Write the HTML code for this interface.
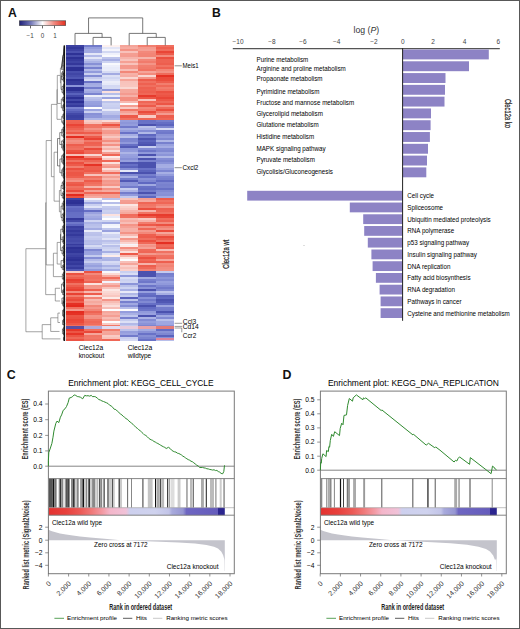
<!DOCTYPE html>
<html><head><meta charset="utf-8"><style>
html,body{margin:0;padding:0;background:#fff;}
svg{display:block;font-family:"Liberation Sans", sans-serif;}
</style></head><body>
<svg width="520" height="629" viewBox="0 0 520 629">
<rect width="520" height="629" fill="#fff"/>
<text x="8" y="17.4" font-size="12.2" fill="#111" font-weight="bold" >A</text>
<defs><linearGradient id="cb" x1="0" x2="1" y1="0" y2="0"><stop offset="0" stop-color="#1e2078"/><stop offset="0.25" stop-color="#7378b8"/><stop offset="0.5" stop-color="#ffffff"/><stop offset="0.75" stop-color="#f08a80"/><stop offset="1" stop-color="#e62e1e"/></linearGradient></defs>
<rect x="19.3" y="20.8" width="46.4" height="4.8" fill="url(#cb)" stroke="#444" stroke-width="0.6"/>
<rect x="30" y="25.6" width="1" height="2.8" fill="#666"/>
<text x="30.1" y="38.1" font-size="6.3" text-anchor="middle" fill="#444" >−1</text>
<rect x="42" y="25.6" width="1" height="2.8" fill="#666"/>
<text x="42.5" y="38.1" font-size="6.3" text-anchor="middle" fill="#444" >0</text>
<rect x="54" y="25.6" width="1" height="2.8" fill="#666"/>
<text x="55" y="38.1" font-size="6.3" text-anchor="middle" fill="#444" >1</text>
<g shape-rendering="crispEdges">
<rect x="66" y="45.4" width="18.1" height="2.05" fill="#3c41a2"/>
<rect x="84.05" y="45.4" width="18.1" height="2.05" fill="#717acb"/>
<rect x="102.1" y="45.4" width="18.1" height="2.05" fill="#fdf1ef"/>
<rect x="120.15" y="45.4" width="18.1" height="2.05" fill="#f5a499"/>
<rect x="138.2" y="45.4" width="18.1" height="2.05" fill="#f27f70"/>
<rect x="156.25" y="45.4" width="18.1" height="2.05" fill="#f07060"/>
<rect x="66" y="47.4" width="18.1" height="2.05" fill="#33389a"/>
<rect x="84.05" y="47.4" width="18.1" height="2.05" fill="#939cdc"/>
<rect x="102.1" y="47.4" width="18.1" height="2.05" fill="#e3e6f7"/>
<rect x="120.15" y="47.4" width="18.1" height="2.05" fill="#f6aca2"/>
<rect x="138.2" y="47.4" width="18.1" height="2.05" fill="#f49b8f"/>
<rect x="156.25" y="47.4" width="18.1" height="2.05" fill="#ee6050"/>
<rect x="66" y="49.41" width="18.1" height="2.05" fill="#3d42a3"/>
<rect x="84.05" y="49.41" width="18.1" height="2.05" fill="#a2aae2"/>
<rect x="102.1" y="49.41" width="18.1" height="2.05" fill="#f4f5fc"/>
<rect x="120.15" y="49.41" width="18.1" height="2.05" fill="#f39386"/>
<rect x="138.2" y="49.41" width="18.1" height="2.05" fill="#f5a095"/>
<rect x="156.25" y="49.41" width="18.1" height="2.05" fill="#f06d5d"/>
<rect x="66" y="51.41" width="18.1" height="2.05" fill="#4b51af"/>
<rect x="84.05" y="51.41" width="18.1" height="2.05" fill="#a2aae2"/>
<rect x="102.1" y="51.41" width="18.1" height="2.05" fill="#d2d8f2"/>
<rect x="120.15" y="51.41" width="18.1" height="2.05" fill="#f8c1ba"/>
<rect x="138.2" y="51.41" width="18.1" height="2.05" fill="#f3897b"/>
<rect x="156.25" y="51.41" width="18.1" height="2.05" fill="#e94637"/>
<rect x="66" y="53.41" width="18.1" height="2.05" fill="#2e3296"/>
<rect x="84.05" y="53.41" width="18.1" height="2.05" fill="#e4e7f7"/>
<rect x="102.1" y="53.41" width="18.1" height="2.05" fill="#eff1fb"/>
<rect x="120.15" y="53.41" width="18.1" height="2.05" fill="#f49e92"/>
<rect x="138.2" y="53.41" width="18.1" height="2.05" fill="#f28577"/>
<rect x="156.25" y="53.41" width="18.1" height="2.05" fill="#ed5c4c"/>
<rect x="66" y="55.41" width="18.1" height="2.05" fill="#454baa"/>
<rect x="84.05" y="55.41" width="18.1" height="2.05" fill="#b3bae8"/>
<rect x="102.1" y="55.41" width="18.1" height="2.05" fill="#f9fafd"/>
<rect x="120.15" y="55.41" width="18.1" height="2.05" fill="#f49c91"/>
<rect x="138.2" y="55.41" width="18.1" height="2.05" fill="#f28475"/>
<rect x="156.25" y="55.41" width="18.1" height="2.05" fill="#f38c7e"/>
<rect x="66" y="57.42" width="18.1" height="2.05" fill="#2d3195"/>
<rect x="84.05" y="57.42" width="18.1" height="2.05" fill="#e4e7f7"/>
<rect x="102.1" y="57.42" width="18.1" height="2.05" fill="#bdc4eb"/>
<rect x="120.15" y="57.42" width="18.1" height="2.05" fill="#f6b3aa"/>
<rect x="138.2" y="57.42" width="18.1" height="2.05" fill="#f6b4ab"/>
<rect x="156.25" y="57.42" width="18.1" height="2.05" fill="#eb5040"/>
<rect x="66" y="59.42" width="18.1" height="2.05" fill="#363b9d"/>
<rect x="84.05" y="59.42" width="18.1" height="2.05" fill="#bbc2eb"/>
<rect x="102.1" y="59.42" width="18.1" height="2.05" fill="#a7afe4"/>
<rect x="120.15" y="59.42" width="18.1" height="2.05" fill="#f8c3bc"/>
<rect x="138.2" y="59.42" width="18.1" height="2.05" fill="#f28678"/>
<rect x="156.25" y="59.42" width="18.1" height="2.05" fill="#ee6353"/>
<rect x="66" y="61.42" width="18.1" height="2.05" fill="#3e44a4"/>
<rect x="84.05" y="61.42" width="18.1" height="2.05" fill="#aab2e5"/>
<rect x="102.1" y="61.42" width="18.1" height="2.05" fill="#cdd3f1"/>
<rect x="120.15" y="61.42" width="18.1" height="2.05" fill="#f5a094"/>
<rect x="138.2" y="61.42" width="18.1" height="2.05" fill="#f17b6c"/>
<rect x="156.25" y="61.42" width="18.1" height="2.05" fill="#ee6353"/>
<rect x="66" y="63.42" width="18.1" height="2.05" fill="#33379a"/>
<rect x="84.05" y="63.42" width="18.1" height="2.05" fill="#8790d6"/>
<rect x="102.1" y="63.42" width="18.1" height="2.05" fill="#f8f9fd"/>
<rect x="120.15" y="63.42" width="18.1" height="2.05" fill="#f8c2bb"/>
<rect x="138.2" y="63.42" width="18.1" height="2.05" fill="#f49487"/>
<rect x="156.25" y="63.42" width="18.1" height="2.05" fill="#ed5e4e"/>
<rect x="66" y="65.43" width="18.1" height="2.05" fill="#4e55b1"/>
<rect x="84.05" y="65.43" width="18.1" height="2.05" fill="#abb3e5"/>
<rect x="102.1" y="65.43" width="18.1" height="2.05" fill="#edeffa"/>
<rect x="120.15" y="65.43" width="18.1" height="2.05" fill="#f4978b"/>
<rect x="138.2" y="65.43" width="18.1" height="2.05" fill="#f27e6f"/>
<rect x="156.25" y="65.43" width="18.1" height="2.05" fill="#f17363"/>
<rect x="66" y="67.43" width="18.1" height="2.05" fill="#2c3094"/>
<rect x="84.05" y="67.43" width="18.1" height="2.05" fill="#7881cf"/>
<rect x="102.1" y="67.43" width="18.1" height="2.05" fill="#e8ebf9"/>
<rect x="120.15" y="67.43" width="18.1" height="2.05" fill="#f4988c"/>
<rect x="138.2" y="67.43" width="18.1" height="2.05" fill="#f17b6b"/>
<rect x="156.25" y="67.43" width="18.1" height="2.05" fill="#ee6252"/>
<rect x="66" y="69.43" width="18.1" height="2.05" fill="#2c3094"/>
<rect x="84.05" y="69.43" width="18.1" height="2.05" fill="#b4bbe8"/>
<rect x="102.1" y="69.43" width="18.1" height="2.05" fill="#e9ecf9"/>
<rect x="120.15" y="69.43" width="18.1" height="2.05" fill="#f7bdb6"/>
<rect x="138.2" y="69.43" width="18.1" height="2.05" fill="#f17363"/>
<rect x="156.25" y="69.43" width="18.1" height="2.05" fill="#f28778"/>
<rect x="66" y="71.44" width="18.1" height="2.05" fill="#484fad"/>
<rect x="84.05" y="71.44" width="18.1" height="2.05" fill="#929bdc"/>
<rect x="102.1" y="71.44" width="18.1" height="2.05" fill="#d6dbf3"/>
<rect x="120.15" y="71.44" width="18.1" height="2.05" fill="#f28779"/>
<rect x="138.2" y="71.44" width="18.1" height="2.05" fill="#f5a499"/>
<rect x="156.25" y="71.44" width="18.1" height="2.05" fill="#f39285"/>
<rect x="66" y="73.44" width="18.1" height="2.05" fill="#4046a6"/>
<rect x="84.05" y="73.44" width="18.1" height="2.05" fill="#cad0f0"/>
<rect x="102.1" y="73.44" width="18.1" height="2.05" fill="#a3abe2"/>
<rect x="120.15" y="73.44" width="18.1" height="2.05" fill="#f6b1a8"/>
<rect x="138.2" y="73.44" width="18.1" height="2.05" fill="#f38b7d"/>
<rect x="156.25" y="73.44" width="18.1" height="2.05" fill="#ef6b5b"/>
<rect x="66" y="75.44" width="18.1" height="2.05" fill="#474eac"/>
<rect x="84.05" y="75.44" width="18.1" height="2.05" fill="#838cd4"/>
<rect x="102.1" y="75.44" width="18.1" height="2.05" fill="#dce0f5"/>
<rect x="120.15" y="75.44" width="18.1" height="2.05" fill="#f6aba2"/>
<rect x="138.2" y="75.44" width="18.1" height="2.05" fill="#fad6d1"/>
<rect x="156.25" y="75.44" width="18.1" height="2.05" fill="#e53124"/>
<rect x="66" y="77.44" width="18.1" height="2.05" fill="#5058b4"/>
<rect x="84.05" y="77.44" width="18.1" height="2.05" fill="#c3c9ed"/>
<rect x="102.1" y="77.44" width="18.1" height="2.05" fill="#d0d6f2"/>
<rect x="120.15" y="77.44" width="18.1" height="2.05" fill="#fad6d2"/>
<rect x="138.2" y="77.44" width="18.1" height="2.05" fill="#f49487"/>
<rect x="156.25" y="77.44" width="18.1" height="2.05" fill="#ea4b3c"/>
<rect x="66" y="79.45" width="18.1" height="2.05" fill="#2c3094"/>
<rect x="84.05" y="79.45" width="18.1" height="2.05" fill="#d5daf3"/>
<rect x="102.1" y="79.45" width="18.1" height="2.05" fill="#dbdff5"/>
<rect x="120.15" y="79.45" width="18.1" height="2.05" fill="#f5a59a"/>
<rect x="138.2" y="79.45" width="18.1" height="2.05" fill="#ed5b4b"/>
<rect x="156.25" y="79.45" width="18.1" height="2.05" fill="#eb4d3d"/>
<rect x="66" y="81.45" width="18.1" height="2.05" fill="#353a9c"/>
<rect x="84.05" y="81.45" width="18.1" height="2.05" fill="#6a73c7"/>
<rect x="102.1" y="81.45" width="18.1" height="2.05" fill="#ebedf9"/>
<rect x="120.15" y="81.45" width="18.1" height="2.05" fill="#f8c2bb"/>
<rect x="138.2" y="81.45" width="18.1" height="2.05" fill="#f07060"/>
<rect x="156.25" y="81.45" width="18.1" height="2.05" fill="#ed5d4d"/>
<rect x="66" y="83.45" width="18.1" height="2.05" fill="#363b9d"/>
<rect x="84.05" y="83.45" width="18.1" height="2.05" fill="#a3abe2"/>
<rect x="102.1" y="83.45" width="18.1" height="2.05" fill="#e6e9f8"/>
<rect x="120.15" y="83.45" width="18.1" height="2.05" fill="#f8c4bd"/>
<rect x="138.2" y="83.45" width="18.1" height="2.05" fill="#ee6151"/>
<rect x="156.25" y="83.45" width="18.1" height="2.05" fill="#f27e6e"/>
<rect x="66" y="85.45" width="18.1" height="2.05" fill="#8a93d8"/>
<rect x="84.05" y="85.45" width="18.1" height="2.05" fill="#a7afe4"/>
<rect x="102.1" y="85.45" width="18.1" height="2.05" fill="#d3d8f3"/>
<rect x="120.15" y="85.45" width="18.1" height="2.05" fill="#f8c6bf"/>
<rect x="138.2" y="85.45" width="18.1" height="2.05" fill="#f06f5f"/>
<rect x="156.25" y="85.45" width="18.1" height="2.05" fill="#ef6858"/>
<rect x="66" y="87.46" width="18.1" height="2.05" fill="#2c3094"/>
<rect x="84.05" y="87.46" width="18.1" height="2.05" fill="#757ecd"/>
<rect x="102.1" y="87.46" width="18.1" height="2.05" fill="#d5daf3"/>
<rect x="120.15" y="87.46" width="18.1" height="2.05" fill="#fad8d3"/>
<rect x="138.2" y="87.46" width="18.1" height="2.05" fill="#ee6050"/>
<rect x="156.25" y="87.46" width="18.1" height="2.05" fill="#f27d6d"/>
<rect x="66" y="89.46" width="18.1" height="2.05" fill="#2c3094"/>
<rect x="84.05" y="89.46" width="18.1" height="2.05" fill="#abb2e5"/>
<rect x="102.1" y="89.46" width="18.1" height="2.05" fill="#8e97da"/>
<rect x="120.15" y="89.46" width="18.1" height="2.05" fill="#f5a89d"/>
<rect x="138.2" y="89.46" width="18.1" height="2.05" fill="#ee6454"/>
<rect x="156.25" y="89.46" width="18.1" height="2.05" fill="#f17464"/>
<rect x="66" y="91.46" width="18.1" height="2.05" fill="#4349a8"/>
<rect x="84.05" y="91.46" width="18.1" height="2.05" fill="#a1a9e2"/>
<rect x="102.1" y="91.46" width="18.1" height="2.05" fill="#fbe0dd"/>
<rect x="120.15" y="91.46" width="18.1" height="2.05" fill="#f5a89d"/>
<rect x="138.2" y="91.46" width="18.1" height="2.05" fill="#ee6050"/>
<rect x="156.25" y="91.46" width="18.1" height="2.05" fill="#eb5141"/>
<rect x="66" y="93.46" width="18.1" height="2.05" fill="#5962bc"/>
<rect x="84.05" y="93.46" width="18.1" height="2.05" fill="#7b84d0"/>
<rect x="102.1" y="93.46" width="18.1" height="2.05" fill="#b6bee9"/>
<rect x="120.15" y="93.46" width="18.1" height="2.05" fill="#f49a8f"/>
<rect x="138.2" y="93.46" width="18.1" height="2.05" fill="#ef6858"/>
<rect x="156.25" y="93.46" width="18.1" height="2.05" fill="#ed5a4a"/>
<rect x="66" y="95.47" width="18.1" height="2.05" fill="#4349a8"/>
<rect x="84.05" y="95.47" width="18.1" height="2.05" fill="#eceef9"/>
<rect x="102.1" y="95.47" width="18.1" height="2.05" fill="#e9ebf9"/>
<rect x="120.15" y="95.47" width="18.1" height="2.05" fill="#f6b0a7"/>
<rect x="138.2" y="95.47" width="18.1" height="2.05" fill="#e73a2c"/>
<rect x="156.25" y="95.47" width="18.1" height="2.05" fill="#ec5444"/>
<rect x="66" y="97.47" width="18.1" height="2.05" fill="#2c3094"/>
<rect x="84.05" y="97.47" width="18.1" height="2.05" fill="#bbc2eb"/>
<rect x="102.1" y="97.47" width="18.1" height="2.05" fill="#9aa3df"/>
<rect x="120.15" y="97.47" width="18.1" height="2.05" fill="#f38e81"/>
<rect x="138.2" y="97.47" width="18.1" height="2.05" fill="#ec5747"/>
<rect x="156.25" y="97.47" width="18.1" height="2.05" fill="#e94637"/>
<rect x="66" y="99.47" width="18.1" height="2.05" fill="#4349a8"/>
<rect x="84.05" y="99.47" width="18.1" height="2.05" fill="#b3bae8"/>
<rect x="102.1" y="99.47" width="18.1" height="2.05" fill="#fef3f1"/>
<rect x="120.15" y="99.47" width="18.1" height="2.05" fill="#f38e81"/>
<rect x="138.2" y="99.47" width="18.1" height="2.05" fill="#f8c3bc"/>
<rect x="156.25" y="99.47" width="18.1" height="2.05" fill="#ed5848"/>
<rect x="66" y="101.48" width="18.1" height="2.05" fill="#2c3094"/>
<rect x="84.05" y="101.48" width="18.1" height="2.05" fill="#99a2df"/>
<rect x="102.1" y="101.48" width="18.1" height="2.05" fill="#bcc3eb"/>
<rect x="120.15" y="101.48" width="18.1" height="2.05" fill="#f7b8b0"/>
<rect x="138.2" y="101.48" width="18.1" height="2.05" fill="#ef6656"/>
<rect x="156.25" y="101.48" width="18.1" height="2.05" fill="#ef6959"/>
<rect x="66" y="103.48" width="18.1" height="2.05" fill="#4046a5"/>
<rect x="84.05" y="103.48" width="18.1" height="2.05" fill="#97a0de"/>
<rect x="102.1" y="103.48" width="18.1" height="2.05" fill="#cdd3f1"/>
<rect x="120.15" y="103.48" width="18.1" height="2.05" fill="#fef9f8"/>
<rect x="138.2" y="103.48" width="18.1" height="2.05" fill="#f17464"/>
<rect x="156.25" y="103.48" width="18.1" height="2.05" fill="#ec5545"/>
<rect x="66" y="105.48" width="18.1" height="2.05" fill="#363b9d"/>
<rect x="84.05" y="105.48" width="18.1" height="2.05" fill="#9099db"/>
<rect x="102.1" y="105.48" width="18.1" height="2.05" fill="#cad0f0"/>
<rect x="120.15" y="105.48" width="18.1" height="2.05" fill="#f49c90"/>
<rect x="138.2" y="105.48" width="18.1" height="2.05" fill="#ed5a4a"/>
<rect x="156.25" y="105.48" width="18.1" height="2.05" fill="#f39083"/>
<rect x="66" y="107.48" width="18.1" height="2.05" fill="#7a83d0"/>
<rect x="84.05" y="107.48" width="18.1" height="2.05" fill="#fefeff"/>
<rect x="102.1" y="107.48" width="18.1" height="2.05" fill="#c6ccee"/>
<rect x="120.15" y="107.48" width="18.1" height="2.05" fill="#f9cac4"/>
<rect x="138.2" y="107.48" width="18.1" height="2.05" fill="#f3887a"/>
<rect x="156.25" y="107.48" width="18.1" height="2.05" fill="#ef6a5a"/>
<rect x="66" y="109.49" width="18.1" height="2.05" fill="#636cc3"/>
<rect x="84.05" y="109.49" width="18.1" height="2.05" fill="#9ca5e0"/>
<rect x="102.1" y="109.49" width="18.1" height="2.05" fill="#e8eaf8"/>
<rect x="120.15" y="109.49" width="18.1" height="2.05" fill="#f17767"/>
<rect x="138.2" y="109.49" width="18.1" height="2.05" fill="#f27d6e"/>
<rect x="156.25" y="109.49" width="18.1" height="2.05" fill="#eb4e3e"/>
<rect x="66" y="111.49" width="18.1" height="2.05" fill="#545cb7"/>
<rect x="84.05" y="111.49" width="18.1" height="2.05" fill="#cad0f0"/>
<rect x="102.1" y="111.49" width="18.1" height="2.05" fill="#bec5ec"/>
<rect x="120.15" y="111.49" width="18.1" height="2.05" fill="#f5a195"/>
<rect x="138.2" y="111.49" width="18.1" height="2.05" fill="#ea4b3c"/>
<rect x="156.25" y="111.49" width="18.1" height="2.05" fill="#f17b6b"/>
<rect x="66" y="113.49" width="18.1" height="2.05" fill="#4349a8"/>
<rect x="84.05" y="113.49" width="18.1" height="2.05" fill="#8891d7"/>
<rect x="102.1" y="113.49" width="18.1" height="2.05" fill="#bac0ea"/>
<rect x="120.15" y="113.49" width="18.1" height="2.05" fill="#f6b3a9"/>
<rect x="138.2" y="113.49" width="18.1" height="2.05" fill="#ee6454"/>
<rect x="156.25" y="113.49" width="18.1" height="2.05" fill="#f49b90"/>
<rect x="66" y="115.49" width="18.1" height="2.05" fill="#3a40a1"/>
<rect x="84.05" y="115.49" width="18.1" height="2.05" fill="#8e97da"/>
<rect x="102.1" y="115.49" width="18.1" height="2.05" fill="#a2aae2"/>
<rect x="120.15" y="115.49" width="18.1" height="2.05" fill="#ed5949"/>
<rect x="138.2" y="115.49" width="18.1" height="2.05" fill="#f9cbc4"/>
<rect x="156.25" y="115.49" width="18.1" height="2.05" fill="#ed5d4d"/>
<rect x="66" y="117.5" width="18.1" height="2.05" fill="#3e44a4"/>
<rect x="84.05" y="117.5" width="18.1" height="2.05" fill="#aeb6e6"/>
<rect x="102.1" y="117.5" width="18.1" height="2.05" fill="#aeb5e6"/>
<rect x="120.15" y="117.5" width="18.1" height="2.05" fill="#f07161"/>
<rect x="138.2" y="117.5" width="18.1" height="2.05" fill="#ee6555"/>
<rect x="156.25" y="117.5" width="18.1" height="2.05" fill="#ef6656"/>
<rect x="66" y="119.5" width="18.1" height="2.06" fill="#ee6454"/>
<rect x="84.05" y="119.5" width="18.1" height="2.06" fill="#f9ccc6"/>
<rect x="102.1" y="119.5" width="18.1" height="2.06" fill="#fbdad6"/>
<rect x="120.15" y="119.5" width="18.1" height="2.06" fill="#959edd"/>
<rect x="138.2" y="119.5" width="18.1" height="2.06" fill="#6871c6"/>
<rect x="156.25" y="119.5" width="18.1" height="2.06" fill="#747dcc"/>
<rect x="66" y="121.51" width="18.1" height="2.06" fill="#ee6151"/>
<rect x="84.05" y="121.51" width="18.1" height="2.06" fill="#f7c0b8"/>
<rect x="102.1" y="121.51" width="18.1" height="2.06" fill="#f49b8f"/>
<rect x="120.15" y="121.51" width="18.1" height="2.06" fill="#8d96d9"/>
<rect x="138.2" y="121.51" width="18.1" height="2.06" fill="#6972c7"/>
<rect x="156.25" y="121.51" width="18.1" height="2.06" fill="#666fc5"/>
<rect x="66" y="123.53" width="18.1" height="2.06" fill="#e94436"/>
<rect x="84.05" y="123.53" width="18.1" height="2.06" fill="#f07262"/>
<rect x="102.1" y="123.53" width="18.1" height="2.06" fill="#ec5343"/>
<rect x="120.15" y="123.53" width="18.1" height="2.06" fill="#949ddd"/>
<rect x="138.2" y="123.53" width="18.1" height="2.06" fill="#4b52af"/>
<rect x="156.25" y="123.53" width="18.1" height="2.06" fill="#5c65be"/>
<rect x="66" y="125.54" width="18.1" height="2.06" fill="#ec5545"/>
<rect x="84.05" y="125.54" width="18.1" height="2.06" fill="#f17464"/>
<rect x="102.1" y="125.54" width="18.1" height="2.06" fill="#f28071"/>
<rect x="120.15" y="125.54" width="18.1" height="2.06" fill="#717acb"/>
<rect x="138.2" y="125.54" width="18.1" height="2.06" fill="#bac1ea"/>
<rect x="156.25" y="125.54" width="18.1" height="2.06" fill="#7e87d1"/>
<rect x="66" y="127.55" width="18.1" height="2.06" fill="#ee6353"/>
<rect x="84.05" y="127.55" width="18.1" height="2.06" fill="#f39386"/>
<rect x="102.1" y="127.55" width="18.1" height="2.06" fill="#f7bbb3"/>
<rect x="120.15" y="127.55" width="18.1" height="2.06" fill="#a5ade3"/>
<rect x="138.2" y="127.55" width="18.1" height="2.06" fill="#a8afe4"/>
<rect x="156.25" y="127.55" width="18.1" height="2.06" fill="#d5d9f3"/>
<rect x="66" y="129.56" width="18.1" height="2.06" fill="#f07262"/>
<rect x="84.05" y="129.56" width="18.1" height="2.06" fill="#f28071"/>
<rect x="102.1" y="129.56" width="18.1" height="2.06" fill="#f49b8f"/>
<rect x="120.15" y="129.56" width="18.1" height="2.06" fill="#949ddd"/>
<rect x="138.2" y="129.56" width="18.1" height="2.06" fill="#848dd5"/>
<rect x="156.25" y="129.56" width="18.1" height="2.06" fill="#747dcd"/>
<rect x="66" y="131.58" width="18.1" height="2.06" fill="#ed5848"/>
<rect x="84.05" y="131.58" width="18.1" height="2.06" fill="#ed5d4d"/>
<rect x="102.1" y="131.58" width="18.1" height="2.06" fill="#f4988c"/>
<rect x="120.15" y="131.58" width="18.1" height="2.06" fill="#6972c7"/>
<rect x="138.2" y="131.58" width="18.1" height="2.06" fill="#b0b8e7"/>
<rect x="156.25" y="131.58" width="18.1" height="2.06" fill="#6f78ca"/>
<rect x="66" y="133.59" width="18.1" height="2.06" fill="#f39386"/>
<rect x="84.05" y="133.59" width="18.1" height="2.06" fill="#f28577"/>
<rect x="102.1" y="133.59" width="18.1" height="2.06" fill="#f6b1a7"/>
<rect x="120.15" y="133.59" width="18.1" height="2.06" fill="#a5ade3"/>
<rect x="138.2" y="133.59" width="18.1" height="2.06" fill="#5e67c0"/>
<rect x="156.25" y="133.59" width="18.1" height="2.06" fill="#8992d7"/>
<rect x="66" y="135.6" width="18.1" height="2.06" fill="#e42c20"/>
<rect x="84.05" y="135.6" width="18.1" height="2.06" fill="#ed5b4b"/>
<rect x="102.1" y="135.6" width="18.1" height="2.06" fill="#f8c7c0"/>
<rect x="120.15" y="135.6" width="18.1" height="2.06" fill="#b9c0ea"/>
<rect x="138.2" y="135.6" width="18.1" height="2.06" fill="#7079ca"/>
<rect x="156.25" y="135.6" width="18.1" height="2.06" fill="#9099db"/>
<rect x="66" y="137.62" width="18.1" height="2.06" fill="#f27e6f"/>
<rect x="84.05" y="137.62" width="18.1" height="2.06" fill="#e94234"/>
<rect x="102.1" y="137.62" width="18.1" height="2.06" fill="#f6aca2"/>
<rect x="120.15" y="137.62" width="18.1" height="2.06" fill="#7b84d0"/>
<rect x="138.2" y="137.62" width="18.1" height="2.06" fill="#4d54b1"/>
<rect x="156.25" y="137.62" width="18.1" height="2.06" fill="#7e87d1"/>
<rect x="66" y="139.63" width="18.1" height="2.06" fill="#f39184"/>
<rect x="84.05" y="139.63" width="18.1" height="2.06" fill="#f1796a"/>
<rect x="102.1" y="139.63" width="18.1" height="2.06" fill="#f38f81"/>
<rect x="120.15" y="139.63" width="18.1" height="2.06" fill="#7e87d1"/>
<rect x="138.2" y="139.63" width="18.1" height="2.06" fill="#5c65be"/>
<rect x="156.25" y="139.63" width="18.1" height="2.06" fill="#aeb6e6"/>
<rect x="66" y="141.64" width="18.1" height="2.06" fill="#f3897b"/>
<rect x="84.05" y="141.64" width="18.1" height="2.06" fill="#ee6050"/>
<rect x="102.1" y="141.64" width="18.1" height="2.06" fill="#f7b9b1"/>
<rect x="120.15" y="141.64" width="18.1" height="2.06" fill="#9099db"/>
<rect x="138.2" y="141.64" width="18.1" height="2.06" fill="#5259b5"/>
<rect x="156.25" y="141.64" width="18.1" height="2.06" fill="#7780ce"/>
<rect x="66" y="143.65" width="18.1" height="2.06" fill="#ed5e4e"/>
<rect x="84.05" y="143.65" width="18.1" height="2.06" fill="#ee6454"/>
<rect x="102.1" y="143.65" width="18.1" height="2.06" fill="#f39185"/>
<rect x="120.15" y="143.65" width="18.1" height="2.06" fill="#6770c5"/>
<rect x="138.2" y="143.65" width="18.1" height="2.06" fill="#4b52af"/>
<rect x="156.25" y="143.65" width="18.1" height="2.06" fill="#97a0de"/>
<rect x="66" y="145.67" width="18.1" height="2.06" fill="#ef6b5b"/>
<rect x="84.05" y="145.67" width="18.1" height="2.06" fill="#f28678"/>
<rect x="102.1" y="145.67" width="18.1" height="2.06" fill="#f9ccc6"/>
<rect x="120.15" y="145.67" width="18.1" height="2.06" fill="#535bb6"/>
<rect x="138.2" y="145.67" width="18.1" height="2.06" fill="#c8ceef"/>
<rect x="156.25" y="145.67" width="18.1" height="2.06" fill="#a4ace3"/>
<rect x="66" y="147.68" width="18.1" height="2.06" fill="#f07161"/>
<rect x="84.05" y="147.68" width="18.1" height="2.06" fill="#ea4a3b"/>
<rect x="102.1" y="147.68" width="18.1" height="2.06" fill="#f6b4ab"/>
<rect x="120.15" y="147.68" width="18.1" height="2.06" fill="#8d96da"/>
<rect x="138.2" y="147.68" width="18.1" height="2.06" fill="#828bd4"/>
<rect x="156.25" y="147.68" width="18.1" height="2.06" fill="#848dd5"/>
<rect x="66" y="149.69" width="18.1" height="2.06" fill="#ec5242"/>
<rect x="84.05" y="149.69" width="18.1" height="2.06" fill="#ef6959"/>
<rect x="102.1" y="149.69" width="18.1" height="2.06" fill="#fbdbd7"/>
<rect x="120.15" y="149.69" width="18.1" height="2.06" fill="#919adc"/>
<rect x="138.2" y="149.69" width="18.1" height="2.06" fill="#6d76c9"/>
<rect x="156.25" y="149.69" width="18.1" height="2.06" fill="#7f88d2"/>
<rect x="66" y="151.71" width="18.1" height="2.06" fill="#ea483a"/>
<rect x="84.05" y="151.71" width="18.1" height="2.06" fill="#ef6656"/>
<rect x="102.1" y="151.71" width="18.1" height="2.06" fill="#f49d92"/>
<rect x="120.15" y="151.71" width="18.1" height="2.06" fill="#adb5e6"/>
<rect x="138.2" y="151.71" width="18.1" height="2.06" fill="#9099db"/>
<rect x="156.25" y="151.71" width="18.1" height="2.06" fill="#97a0de"/>
<rect x="66" y="153.72" width="18.1" height="2.06" fill="#f7bdb5"/>
<rect x="84.05" y="153.72" width="18.1" height="2.06" fill="#fad6d1"/>
<rect x="102.1" y="153.72" width="18.1" height="2.06" fill="#ef6555"/>
<rect x="120.15" y="153.72" width="18.1" height="2.06" fill="#97a0de"/>
<rect x="138.2" y="153.72" width="18.1" height="2.06" fill="#4b52af"/>
<rect x="156.25" y="153.72" width="18.1" height="2.06" fill="#8b94d8"/>
<rect x="66" y="155.73" width="18.1" height="2.06" fill="#e42a1e"/>
<rect x="84.05" y="155.73" width="18.1" height="2.06" fill="#f28577"/>
<rect x="102.1" y="155.73" width="18.1" height="2.06" fill="#fdebe9"/>
<rect x="120.15" y="155.73" width="18.1" height="2.06" fill="#949ddd"/>
<rect x="138.2" y="155.73" width="18.1" height="2.06" fill="#a5ade3"/>
<rect x="156.25" y="155.73" width="18.1" height="2.06" fill="#b1b9e7"/>
<rect x="66" y="157.74" width="18.1" height="2.06" fill="#eb4e3f"/>
<rect x="84.05" y="157.74" width="18.1" height="2.06" fill="#ea4839"/>
<rect x="102.1" y="157.74" width="18.1" height="2.06" fill="#f9cdc7"/>
<rect x="120.15" y="157.74" width="18.1" height="2.06" fill="#8790d6"/>
<rect x="138.2" y="157.74" width="18.1" height="2.06" fill="#4b52af"/>
<rect x="156.25" y="157.74" width="18.1" height="2.06" fill="#848dd5"/>
<rect x="66" y="159.76" width="18.1" height="2.06" fill="#f07262"/>
<rect x="84.05" y="159.76" width="18.1" height="2.06" fill="#ee6555"/>
<rect x="102.1" y="159.76" width="18.1" height="2.06" fill="#ef6858"/>
<rect x="120.15" y="159.76" width="18.1" height="2.06" fill="#97a0de"/>
<rect x="138.2" y="159.76" width="18.1" height="2.06" fill="#7881ce"/>
<rect x="156.25" y="159.76" width="18.1" height="2.06" fill="#7b84d0"/>
<rect x="66" y="161.77" width="18.1" height="2.06" fill="#eb4f40"/>
<rect x="84.05" y="161.77" width="18.1" height="2.06" fill="#f17c6c"/>
<rect x="102.1" y="161.77" width="18.1" height="2.06" fill="#fbe0dc"/>
<rect x="120.15" y="161.77" width="18.1" height="2.06" fill="#5057b3"/>
<rect x="138.2" y="161.77" width="18.1" height="2.06" fill="#4b52af"/>
<rect x="156.25" y="161.77" width="18.1" height="2.06" fill="#8891d7"/>
<rect x="66" y="163.78" width="18.1" height="2.06" fill="#ed5b4b"/>
<rect x="84.05" y="163.78" width="18.1" height="2.06" fill="#e63326"/>
<rect x="102.1" y="163.78" width="18.1" height="2.06" fill="#f5a499"/>
<rect x="120.15" y="163.78" width="18.1" height="2.06" fill="#6770c6"/>
<rect x="138.2" y="163.78" width="18.1" height="2.06" fill="#4b52af"/>
<rect x="156.25" y="163.78" width="18.1" height="2.06" fill="#a4ace3"/>
<rect x="66" y="165.79" width="18.1" height="2.06" fill="#f27e6f"/>
<rect x="84.05" y="165.79" width="18.1" height="2.06" fill="#ee5f4f"/>
<rect x="102.1" y="165.79" width="18.1" height="2.06" fill="#f4978b"/>
<rect x="120.15" y="165.79" width="18.1" height="2.06" fill="#5a62bc"/>
<rect x="138.2" y="165.79" width="18.1" height="2.06" fill="#4b52af"/>
<rect x="156.25" y="165.79" width="18.1" height="2.06" fill="#a6aee3"/>
<rect x="66" y="167.81" width="18.1" height="2.06" fill="#eb4f40"/>
<rect x="84.05" y="167.81" width="18.1" height="2.06" fill="#ee5f4f"/>
<rect x="102.1" y="167.81" width="18.1" height="2.06" fill="#fbdfdb"/>
<rect x="120.15" y="167.81" width="18.1" height="2.06" fill="#838cd4"/>
<rect x="138.2" y="167.81" width="18.1" height="2.06" fill="#6972c7"/>
<rect x="156.25" y="167.81" width="18.1" height="2.06" fill="#949ddd"/>
<rect x="66" y="169.82" width="18.1" height="2.06" fill="#ee6151"/>
<rect x="84.05" y="169.82" width="18.1" height="2.06" fill="#ed5949"/>
<rect x="102.1" y="169.82" width="18.1" height="2.06" fill="#f7bbb3"/>
<rect x="120.15" y="169.82" width="18.1" height="2.06" fill="#e5e8f8"/>
<rect x="138.2" y="169.82" width="18.1" height="2.06" fill="#5b64bd"/>
<rect x="156.25" y="169.82" width="18.1" height="2.06" fill="#7c85d1"/>
<rect x="66" y="171.83" width="18.1" height="2.06" fill="#ec5646"/>
<rect x="84.05" y="171.83" width="18.1" height="2.06" fill="#f07161"/>
<rect x="102.1" y="171.83" width="18.1" height="2.06" fill="#f06c5c"/>
<rect x="120.15" y="171.83" width="18.1" height="2.06" fill="#4b52af"/>
<rect x="138.2" y="171.83" width="18.1" height="2.06" fill="#4b52af"/>
<rect x="156.25" y="171.83" width="18.1" height="2.06" fill="#a7afe4"/>
<rect x="66" y="173.85" width="18.1" height="2.06" fill="#ec5747"/>
<rect x="84.05" y="173.85" width="18.1" height="2.06" fill="#f8c2bb"/>
<rect x="102.1" y="173.85" width="18.1" height="2.06" fill="#f7bdb6"/>
<rect x="120.15" y="173.85" width="18.1" height="2.06" fill="#818ad3"/>
<rect x="138.2" y="173.85" width="18.1" height="2.06" fill="#767fcd"/>
<rect x="156.25" y="173.85" width="18.1" height="2.06" fill="#939cdc"/>
<rect x="66" y="175.86" width="18.1" height="2.06" fill="#ee5f4f"/>
<rect x="84.05" y="175.86" width="18.1" height="2.06" fill="#f06e5e"/>
<rect x="102.1" y="175.86" width="18.1" height="2.06" fill="#f49f93"/>
<rect x="120.15" y="175.86" width="18.1" height="2.06" fill="#a6aee3"/>
<rect x="138.2" y="175.86" width="18.1" height="2.06" fill="#656ec5"/>
<rect x="156.25" y="175.86" width="18.1" height="2.06" fill="#7a83d0"/>
<rect x="66" y="177.87" width="18.1" height="2.06" fill="#f28375"/>
<rect x="84.05" y="177.87" width="18.1" height="2.06" fill="#f27e6f"/>
<rect x="102.1" y="177.87" width="18.1" height="2.06" fill="#f7b8af"/>
<rect x="120.15" y="177.87" width="18.1" height="2.06" fill="#737ccc"/>
<rect x="138.2" y="177.87" width="18.1" height="2.06" fill="#8891d7"/>
<rect x="156.25" y="177.87" width="18.1" height="2.06" fill="#767fcd"/>
<rect x="66" y="179.88" width="18.1" height="2.06" fill="#f39184"/>
<rect x="84.05" y="179.88" width="18.1" height="2.06" fill="#ed5b4b"/>
<rect x="102.1" y="179.88" width="18.1" height="2.06" fill="#f4988c"/>
<rect x="120.15" y="179.88" width="18.1" height="2.06" fill="#5259b5"/>
<rect x="138.2" y="179.88" width="18.1" height="2.06" fill="#7d86d1"/>
<rect x="156.25" y="179.88" width="18.1" height="2.06" fill="#626bc3"/>
<rect x="66" y="181.9" width="18.1" height="2.06" fill="#ed5e4e"/>
<rect x="84.05" y="181.9" width="18.1" height="2.06" fill="#f06e5e"/>
<rect x="102.1" y="181.9" width="18.1" height="2.06" fill="#f49e93"/>
<rect x="120.15" y="181.9" width="18.1" height="2.06" fill="#8992d7"/>
<rect x="138.2" y="181.9" width="18.1" height="2.06" fill="#5f68c1"/>
<rect x="156.25" y="181.9" width="18.1" height="2.06" fill="#7d86d1"/>
<rect x="66" y="183.91" width="18.1" height="2.06" fill="#ec5646"/>
<rect x="84.05" y="183.91" width="18.1" height="2.06" fill="#f17666"/>
<rect x="102.1" y="183.91" width="18.1" height="2.06" fill="#f49487"/>
<rect x="120.15" y="183.91" width="18.1" height="2.06" fill="#8b94d9"/>
<rect x="138.2" y="183.91" width="18.1" height="2.06" fill="#a0a9e1"/>
<rect x="156.25" y="183.91" width="18.1" height="2.06" fill="#7881ce"/>
<rect x="66" y="185.92" width="18.1" height="2.06" fill="#f07262"/>
<rect x="84.05" y="185.92" width="18.1" height="2.06" fill="#f6b5ac"/>
<rect x="102.1" y="185.92" width="18.1" height="2.06" fill="#f9ccc6"/>
<rect x="120.15" y="185.92" width="18.1" height="2.06" fill="#737ccc"/>
<rect x="138.2" y="185.92" width="18.1" height="2.06" fill="#6871c6"/>
<rect x="156.25" y="185.92" width="18.1" height="2.06" fill="#7a83cf"/>
<rect x="66" y="187.94" width="18.1" height="2.06" fill="#ef6858"/>
<rect x="84.05" y="187.94" width="18.1" height="2.06" fill="#ef6757"/>
<rect x="102.1" y="187.94" width="18.1" height="2.06" fill="#f39184"/>
<rect x="120.15" y="187.94" width="18.1" height="2.06" fill="#c6ccef"/>
<rect x="138.2" y="187.94" width="18.1" height="2.06" fill="#636cc3"/>
<rect x="156.25" y="187.94" width="18.1" height="2.06" fill="#6770c5"/>
<rect x="66" y="189.95" width="18.1" height="2.06" fill="#ea4a3b"/>
<rect x="84.05" y="189.95" width="18.1" height="2.06" fill="#f5a196"/>
<rect x="102.1" y="189.95" width="18.1" height="2.06" fill="#f6aba1"/>
<rect x="120.15" y="189.95" width="18.1" height="2.06" fill="#acb3e5"/>
<rect x="138.2" y="189.95" width="18.1" height="2.06" fill="#717acb"/>
<rect x="156.25" y="189.95" width="18.1" height="2.06" fill="#8089d2"/>
<rect x="66" y="191.96" width="18.1" height="2.06" fill="#f28173"/>
<rect x="84.05" y="191.96" width="18.1" height="2.06" fill="#ef6757"/>
<rect x="102.1" y="191.96" width="18.1" height="2.06" fill="#ef6656"/>
<rect x="120.15" y="191.96" width="18.1" height="2.06" fill="#747dcc"/>
<rect x="138.2" y="191.96" width="18.1" height="2.06" fill="#4b52af"/>
<rect x="156.25" y="191.96" width="18.1" height="2.06" fill="#8a93d8"/>
<rect x="66" y="193.97" width="18.1" height="2.06" fill="#e42a1e"/>
<rect x="84.05" y="193.97" width="18.1" height="2.06" fill="#f4998c"/>
<rect x="102.1" y="193.97" width="18.1" height="2.06" fill="#f49e92"/>
<rect x="120.15" y="193.97" width="18.1" height="2.06" fill="#919adc"/>
<rect x="138.2" y="193.97" width="18.1" height="2.06" fill="#7c85d0"/>
<rect x="156.25" y="193.97" width="18.1" height="2.06" fill="#8790d6"/>
<rect x="66" y="195.99" width="18.1" height="2.06" fill="#eb5141"/>
<rect x="84.05" y="195.99" width="18.1" height="2.06" fill="#f5aaa0"/>
<rect x="102.1" y="195.99" width="18.1" height="2.06" fill="#f49f93"/>
<rect x="120.15" y="195.99" width="18.1" height="2.06" fill="#c4caee"/>
<rect x="138.2" y="195.99" width="18.1" height="2.06" fill="#5e67c0"/>
<rect x="156.25" y="195.99" width="18.1" height="2.06" fill="#a1a9e2"/>
<rect x="66" y="198" width="18.1" height="2.03" fill="#3e44a4"/>
<rect x="84.05" y="198" width="18.1" height="2.03" fill="#f1f3fb"/>
<rect x="102.1" y="198" width="18.1" height="2.03" fill="#bbc1eb"/>
<rect x="120.15" y="198" width="18.1" height="2.03" fill="#f8c4bc"/>
<rect x="138.2" y="198" width="18.1" height="2.03" fill="#f49e92"/>
<rect x="156.25" y="198" width="18.1" height="2.03" fill="#ed5c4c"/>
<rect x="66" y="199.98" width="18.1" height="2.03" fill="#2e3296"/>
<rect x="84.05" y="199.98" width="18.1" height="2.03" fill="#ccd2f1"/>
<rect x="102.1" y="199.98" width="18.1" height="2.03" fill="#fefeff"/>
<rect x="120.15" y="199.98" width="18.1" height="2.03" fill="#f49e93"/>
<rect x="138.2" y="199.98" width="18.1" height="2.03" fill="#f5aaa0"/>
<rect x="156.25" y="199.98" width="18.1" height="2.03" fill="#f07262"/>
<rect x="66" y="201.96" width="18.1" height="2.03" fill="#2c3094"/>
<rect x="84.05" y="201.96" width="18.1" height="2.03" fill="#9da6e0"/>
<rect x="102.1" y="201.96" width="18.1" height="2.03" fill="#b7bee9"/>
<rect x="120.15" y="201.96" width="18.1" height="2.03" fill="#f49b8f"/>
<rect x="138.2" y="201.96" width="18.1" height="2.03" fill="#ef6656"/>
<rect x="156.25" y="201.96" width="18.1" height="2.03" fill="#ef6656"/>
<rect x="66" y="203.94" width="18.1" height="2.03" fill="#3b40a1"/>
<rect x="84.05" y="203.94" width="18.1" height="2.03" fill="#cad0f0"/>
<rect x="102.1" y="203.94" width="18.1" height="2.03" fill="#f5f7fc"/>
<rect x="120.15" y="203.94" width="18.1" height="2.03" fill="#fce6e3"/>
<rect x="138.2" y="203.94" width="18.1" height="2.03" fill="#f17565"/>
<rect x="156.25" y="203.94" width="18.1" height="2.03" fill="#f28273"/>
<rect x="66" y="205.91" width="18.1" height="2.03" fill="#6770c6"/>
<rect x="84.05" y="205.91" width="18.1" height="2.03" fill="#e1e5f7"/>
<rect x="102.1" y="205.91" width="18.1" height="2.03" fill="#c5cbee"/>
<rect x="120.15" y="205.91" width="18.1" height="2.03" fill="#fad3cd"/>
<rect x="138.2" y="205.91" width="18.1" height="2.03" fill="#f17b6c"/>
<rect x="156.25" y="205.91" width="18.1" height="2.03" fill="#f49689"/>
<rect x="66" y="207.89" width="18.1" height="2.03" fill="#5f67c0"/>
<rect x="84.05" y="207.89" width="18.1" height="2.03" fill="#adb4e6"/>
<rect x="102.1" y="207.89" width="18.1" height="2.03" fill="#bfc5ec"/>
<rect x="120.15" y="207.89" width="18.1" height="2.03" fill="#f9c9c3"/>
<rect x="138.2" y="207.89" width="18.1" height="2.03" fill="#eb4e3e"/>
<rect x="156.25" y="207.89" width="18.1" height="2.03" fill="#ee5f4f"/>
<rect x="66" y="209.87" width="18.1" height="2.03" fill="#5c64be"/>
<rect x="84.05" y="209.87" width="18.1" height="2.03" fill="#656ec5"/>
<rect x="102.1" y="209.87" width="18.1" height="2.03" fill="#cbd1f0"/>
<rect x="120.15" y="209.87" width="18.1" height="2.03" fill="#f6b3aa"/>
<rect x="138.2" y="209.87" width="18.1" height="2.03" fill="#f6b3aa"/>
<rect x="156.25" y="209.87" width="18.1" height="2.03" fill="#ee6454"/>
<rect x="66" y="211.85" width="18.1" height="2.03" fill="#656ec4"/>
<rect x="84.05" y="211.85" width="18.1" height="2.03" fill="#9aa2df"/>
<rect x="102.1" y="211.85" width="18.1" height="2.03" fill="#c7cdef"/>
<rect x="120.15" y="211.85" width="18.1" height="2.03" fill="#f5a99e"/>
<rect x="138.2" y="211.85" width="18.1" height="2.03" fill="#f17565"/>
<rect x="156.25" y="211.85" width="18.1" height="2.03" fill="#f07060"/>
<rect x="66" y="213.83" width="18.1" height="2.03" fill="#666fc5"/>
<rect x="84.05" y="213.83" width="18.1" height="2.03" fill="#acb3e5"/>
<rect x="102.1" y="213.83" width="18.1" height="2.03" fill="#fce2df"/>
<rect x="120.15" y="213.83" width="18.1" height="2.03" fill="#f06c5c"/>
<rect x="138.2" y="213.83" width="18.1" height="2.03" fill="#e73b2e"/>
<rect x="156.25" y="213.83" width="18.1" height="2.03" fill="#e73b2d"/>
<rect x="66" y="215.81" width="18.1" height="2.03" fill="#666fc5"/>
<rect x="84.05" y="215.81" width="18.1" height="2.03" fill="#a2aae2"/>
<rect x="102.1" y="215.81" width="18.1" height="2.03" fill="#e7eaf8"/>
<rect x="120.15" y="215.81" width="18.1" height="2.03" fill="#f07161"/>
<rect x="138.2" y="215.81" width="18.1" height="2.03" fill="#ed5a4a"/>
<rect x="156.25" y="215.81" width="18.1" height="2.03" fill="#e94436"/>
<rect x="66" y="217.78" width="18.1" height="2.03" fill="#35399c"/>
<rect x="84.05" y="217.78" width="18.1" height="2.03" fill="#99a2df"/>
<rect x="102.1" y="217.78" width="18.1" height="2.03" fill="#ffffff"/>
<rect x="120.15" y="217.78" width="18.1" height="2.03" fill="#f7bcb4"/>
<rect x="138.2" y="217.78" width="18.1" height="2.03" fill="#f8c8c2"/>
<rect x="156.25" y="217.78" width="18.1" height="2.03" fill="#f06e5e"/>
<rect x="66" y="219.76" width="18.1" height="2.03" fill="#444aa9"/>
<rect x="84.05" y="219.76" width="18.1" height="2.03" fill="#d0d5f2"/>
<rect x="102.1" y="219.76" width="18.1" height="2.03" fill="#ced4f1"/>
<rect x="120.15" y="219.76" width="18.1" height="2.03" fill="#f6ada3"/>
<rect x="138.2" y="219.76" width="18.1" height="2.03" fill="#f6b3aa"/>
<rect x="156.25" y="219.76" width="18.1" height="2.03" fill="#ee6353"/>
<rect x="66" y="221.74" width="18.1" height="2.03" fill="#7079ca"/>
<rect x="84.05" y="221.74" width="18.1" height="2.03" fill="#acb4e6"/>
<rect x="102.1" y="221.74" width="18.1" height="2.03" fill="#a1aae2"/>
<rect x="120.15" y="221.74" width="18.1" height="2.03" fill="#f7beb7"/>
<rect x="138.2" y="221.74" width="18.1" height="2.03" fill="#f27c6d"/>
<rect x="156.25" y="221.74" width="18.1" height="2.03" fill="#f38b7d"/>
<rect x="66" y="223.72" width="18.1" height="2.03" fill="#6068c1"/>
<rect x="84.05" y="223.72" width="18.1" height="2.03" fill="#b8bfea"/>
<rect x="102.1" y="223.72" width="18.1" height="2.03" fill="#f1f3fb"/>
<rect x="120.15" y="223.72" width="18.1" height="2.03" fill="#f49487"/>
<rect x="138.2" y="223.72" width="18.1" height="2.03" fill="#ed5a4a"/>
<rect x="156.25" y="223.72" width="18.1" height="2.03" fill="#eb5141"/>
<rect x="66" y="225.7" width="18.1" height="2.03" fill="#3a3fa0"/>
<rect x="84.05" y="225.7" width="18.1" height="2.03" fill="#bcc3eb"/>
<rect x="102.1" y="225.7" width="18.1" height="2.03" fill="#f6f7fd"/>
<rect x="120.15" y="225.7" width="18.1" height="2.03" fill="#f5a196"/>
<rect x="138.2" y="225.7" width="18.1" height="2.03" fill="#f49488"/>
<rect x="156.25" y="225.7" width="18.1" height="2.03" fill="#f28172"/>
<rect x="66" y="227.68" width="18.1" height="2.03" fill="#4046a6"/>
<rect x="84.05" y="227.68" width="18.1" height="2.03" fill="#a3abe2"/>
<rect x="102.1" y="227.68" width="18.1" height="2.03" fill="#c1c8ed"/>
<rect x="120.15" y="227.68" width="18.1" height="2.03" fill="#f6b1a8"/>
<rect x="138.2" y="227.68" width="18.1" height="2.03" fill="#ef6757"/>
<rect x="156.25" y="227.68" width="18.1" height="2.03" fill="#f39285"/>
<rect x="66" y="229.65" width="18.1" height="2.03" fill="#34399b"/>
<rect x="84.05" y="229.65" width="18.1" height="2.03" fill="#e9ecf9"/>
<rect x="102.1" y="229.65" width="18.1" height="2.03" fill="#98a1de"/>
<rect x="120.15" y="229.65" width="18.1" height="2.03" fill="#f6b0a7"/>
<rect x="138.2" y="229.65" width="18.1" height="2.03" fill="#f49b8f"/>
<rect x="156.25" y="229.65" width="18.1" height="2.03" fill="#ea4b3c"/>
<rect x="66" y="231.63" width="18.1" height="2.03" fill="#3d43a3"/>
<rect x="84.05" y="231.63" width="18.1" height="2.03" fill="#bdc3eb"/>
<rect x="102.1" y="231.63" width="18.1" height="2.03" fill="#e8ebf9"/>
<rect x="120.15" y="231.63" width="18.1" height="2.03" fill="#f39386"/>
<rect x="138.2" y="231.63" width="18.1" height="2.03" fill="#f3887a"/>
<rect x="156.25" y="231.63" width="18.1" height="2.03" fill="#f5a59a"/>
<rect x="66" y="233.61" width="18.1" height="2.03" fill="#34399b"/>
<rect x="84.05" y="233.61" width="18.1" height="2.03" fill="#bac1ea"/>
<rect x="102.1" y="233.61" width="18.1" height="2.03" fill="#cfd4f1"/>
<rect x="120.15" y="233.61" width="18.1" height="2.03" fill="#f7b9b1"/>
<rect x="138.2" y="233.61" width="18.1" height="2.03" fill="#ee5f4f"/>
<rect x="156.25" y="233.61" width="18.1" height="2.03" fill="#f28172"/>
<rect x="66" y="235.59" width="18.1" height="2.03" fill="#4147a6"/>
<rect x="84.05" y="235.59" width="18.1" height="2.03" fill="#c9cff0"/>
<rect x="102.1" y="235.59" width="18.1" height="2.03" fill="#cbd1f0"/>
<rect x="120.15" y="235.59" width="18.1" height="2.03" fill="#fbdfdb"/>
<rect x="138.2" y="235.59" width="18.1" height="2.03" fill="#ed5c4c"/>
<rect x="156.25" y="235.59" width="18.1" height="2.03" fill="#ea4a3b"/>
<rect x="66" y="237.57" width="18.1" height="2.03" fill="#464dab"/>
<rect x="84.05" y="237.57" width="18.1" height="2.03" fill="#c4caee"/>
<rect x="102.1" y="237.57" width="18.1" height="2.03" fill="#e0e3f6"/>
<rect x="120.15" y="237.57" width="18.1" height="2.03" fill="#f4978a"/>
<rect x="138.2" y="237.57" width="18.1" height="2.03" fill="#f06e5e"/>
<rect x="156.25" y="237.57" width="18.1" height="2.03" fill="#ed5c4c"/>
<rect x="66" y="239.55" width="18.1" height="2.03" fill="#444aa9"/>
<rect x="84.05" y="239.55" width="18.1" height="2.03" fill="#b7bee9"/>
<rect x="102.1" y="239.55" width="18.1" height="2.03" fill="#bac0ea"/>
<rect x="120.15" y="239.55" width="18.1" height="2.03" fill="#f7b7ae"/>
<rect x="138.2" y="239.55" width="18.1" height="2.03" fill="#eb5141"/>
<rect x="156.25" y="239.55" width="18.1" height="2.03" fill="#f17363"/>
<rect x="66" y="241.52" width="18.1" height="2.03" fill="#4a51ae"/>
<rect x="84.05" y="241.52" width="18.1" height="2.03" fill="#bac1ea"/>
<rect x="102.1" y="241.52" width="18.1" height="2.03" fill="#c7cdef"/>
<rect x="120.15" y="241.52" width="18.1" height="2.03" fill="#fad4cf"/>
<rect x="138.2" y="241.52" width="18.1" height="2.03" fill="#ef6959"/>
<rect x="156.25" y="241.52" width="18.1" height="2.03" fill="#e52f22"/>
<rect x="66" y="243.5" width="18.1" height="2.03" fill="#363b9d"/>
<rect x="84.05" y="243.5" width="18.1" height="2.03" fill="#b1b9e7"/>
<rect x="102.1" y="243.5" width="18.1" height="2.03" fill="#dfe3f6"/>
<rect x="120.15" y="243.5" width="18.1" height="2.03" fill="#f4f5fc"/>
<rect x="138.2" y="243.5" width="18.1" height="2.03" fill="#f49e93"/>
<rect x="156.25" y="243.5" width="18.1" height="2.03" fill="#ee6151"/>
<rect x="66" y="245.48" width="18.1" height="2.03" fill="#4248a7"/>
<rect x="84.05" y="245.48" width="18.1" height="2.03" fill="#d6dbf3"/>
<rect x="102.1" y="245.48" width="18.1" height="2.03" fill="#b9c0ea"/>
<rect x="120.15" y="245.48" width="18.1" height="2.03" fill="#fdebe9"/>
<rect x="138.2" y="245.48" width="18.1" height="2.03" fill="#f39185"/>
<rect x="156.25" y="245.48" width="18.1" height="2.03" fill="#ef6858"/>
<rect x="66" y="247.46" width="18.1" height="2.03" fill="#2c3094"/>
<rect x="84.05" y="247.46" width="18.1" height="2.03" fill="#c1c8ed"/>
<rect x="102.1" y="247.46" width="18.1" height="2.03" fill="#cad0f0"/>
<rect x="120.15" y="247.46" width="18.1" height="2.03" fill="#f38d80"/>
<rect x="138.2" y="247.46" width="18.1" height="2.03" fill="#f5a196"/>
<rect x="156.25" y="247.46" width="18.1" height="2.03" fill="#ed5c4c"/>
<rect x="66" y="249.44" width="18.1" height="2.03" fill="#323799"/>
<rect x="84.05" y="249.44" width="18.1" height="2.03" fill="#8089d3"/>
<rect x="102.1" y="249.44" width="18.1" height="2.03" fill="#d2d7f2"/>
<rect x="120.15" y="249.44" width="18.1" height="2.03" fill="#f6b5ac"/>
<rect x="138.2" y="249.44" width="18.1" height="2.03" fill="#ef6a5a"/>
<rect x="156.25" y="249.44" width="18.1" height="2.03" fill="#f7bdb5"/>
<rect x="66" y="251.42" width="18.1" height="2.03" fill="#303598"/>
<rect x="84.05" y="251.42" width="18.1" height="2.03" fill="#9aa2df"/>
<rect x="102.1" y="251.42" width="18.1" height="2.03" fill="#a8b0e4"/>
<rect x="120.15" y="251.42" width="18.1" height="2.03" fill="#fbdfdb"/>
<rect x="138.2" y="251.42" width="18.1" height="2.03" fill="#ef6656"/>
<rect x="156.25" y="251.42" width="18.1" height="2.03" fill="#f07262"/>
<rect x="66" y="253.39" width="18.1" height="2.03" fill="#4046a5"/>
<rect x="84.05" y="253.39" width="18.1" height="2.03" fill="#9ba4e0"/>
<rect x="102.1" y="253.39" width="18.1" height="2.03" fill="#dfe2f6"/>
<rect x="120.15" y="253.39" width="18.1" height="2.03" fill="#ed5a4a"/>
<rect x="138.2" y="253.39" width="18.1" height="2.03" fill="#f4998d"/>
<rect x="156.25" y="253.39" width="18.1" height="2.03" fill="#f38f82"/>
<rect x="66" y="255.37" width="18.1" height="2.03" fill="#3b40a1"/>
<rect x="84.05" y="255.37" width="18.1" height="2.03" fill="#c4cbee"/>
<rect x="102.1" y="255.37" width="18.1" height="2.03" fill="#fdedeb"/>
<rect x="120.15" y="255.37" width="18.1" height="2.03" fill="#f7b7ae"/>
<rect x="138.2" y="255.37" width="18.1" height="2.03" fill="#f06d5d"/>
<rect x="156.25" y="255.37" width="18.1" height="2.03" fill="#f07161"/>
<rect x="66" y="257.35" width="18.1" height="2.03" fill="#323699"/>
<rect x="84.05" y="257.35" width="18.1" height="2.03" fill="#868fd6"/>
<rect x="102.1" y="257.35" width="18.1" height="2.03" fill="#afb7e7"/>
<rect x="120.15" y="257.35" width="18.1" height="2.03" fill="#fce5e1"/>
<rect x="138.2" y="257.35" width="18.1" height="2.03" fill="#eb4f40"/>
<rect x="156.25" y="257.35" width="18.1" height="2.03" fill="#f06e5e"/>
<rect x="66" y="259.33" width="18.1" height="2.03" fill="#2c3094"/>
<rect x="84.05" y="259.33" width="18.1" height="2.03" fill="#b3bae8"/>
<rect x="102.1" y="259.33" width="18.1" height="2.03" fill="#abb3e5"/>
<rect x="120.15" y="259.33" width="18.1" height="2.03" fill="#fcfdfe"/>
<rect x="138.2" y="259.33" width="18.1" height="2.03" fill="#ef6757"/>
<rect x="156.25" y="259.33" width="18.1" height="2.03" fill="#f5a59b"/>
<rect x="66" y="261.31" width="18.1" height="2.03" fill="#393e9f"/>
<rect x="84.05" y="261.31" width="18.1" height="2.03" fill="#c7cdef"/>
<rect x="102.1" y="261.31" width="18.1" height="2.03" fill="#d7dbf4"/>
<rect x="120.15" y="261.31" width="18.1" height="2.03" fill="#f7bfb8"/>
<rect x="138.2" y="261.31" width="18.1" height="2.03" fill="#ed5c4c"/>
<rect x="156.25" y="261.31" width="18.1" height="2.03" fill="#ee5f4f"/>
<rect x="66" y="263.29" width="18.1" height="2.03" fill="#33389a"/>
<rect x="84.05" y="263.29" width="18.1" height="2.03" fill="#a5ade3"/>
<rect x="102.1" y="263.29" width="18.1" height="2.03" fill="#cdd2f1"/>
<rect x="120.15" y="263.29" width="18.1" height="2.03" fill="#f5a69b"/>
<rect x="138.2" y="263.29" width="18.1" height="2.03" fill="#f6b2a9"/>
<rect x="156.25" y="263.29" width="18.1" height="2.03" fill="#f38a7c"/>
<rect x="66" y="265.26" width="18.1" height="2.03" fill="#4147a7"/>
<rect x="84.05" y="265.26" width="18.1" height="2.03" fill="#97a0de"/>
<rect x="102.1" y="265.26" width="18.1" height="2.03" fill="#a9b1e4"/>
<rect x="120.15" y="265.26" width="18.1" height="2.03" fill="#fad1cc"/>
<rect x="138.2" y="265.26" width="18.1" height="2.03" fill="#ed5e4e"/>
<rect x="156.25" y="265.26" width="18.1" height="2.03" fill="#f28374"/>
<rect x="66" y="267.24" width="18.1" height="2.03" fill="#363b9d"/>
<rect x="84.05" y="267.24" width="18.1" height="2.03" fill="#aab2e5"/>
<rect x="102.1" y="267.24" width="18.1" height="2.03" fill="#c3caee"/>
<rect x="120.15" y="267.24" width="18.1" height="2.03" fill="#f8c2bb"/>
<rect x="138.2" y="267.24" width="18.1" height="2.03" fill="#ef6959"/>
<rect x="156.25" y="267.24" width="18.1" height="2.03" fill="#f38c7f"/>
<rect x="66" y="269.22" width="18.1" height="2.03" fill="#5158b4"/>
<rect x="84.05" y="269.22" width="18.1" height="2.03" fill="#919adb"/>
<rect x="102.1" y="269.22" width="18.1" height="2.03" fill="#a5ade3"/>
<rect x="120.15" y="269.22" width="18.1" height="2.03" fill="#fad1cc"/>
<rect x="138.2" y="269.22" width="18.1" height="2.03" fill="#f28173"/>
<rect x="156.25" y="269.22" width="18.1" height="2.03" fill="#f39083"/>
<rect x="66" y="271.2" width="18.1" height="2.04" fill="#f9cdc7"/>
<rect x="84.05" y="271.2" width="18.1" height="2.04" fill="#ec5242"/>
<rect x="102.1" y="271.2" width="18.1" height="2.04" fill="#f7f8fd"/>
<rect x="120.15" y="271.2" width="18.1" height="2.04" fill="#c9cff0"/>
<rect x="138.2" y="271.2" width="18.1" height="2.04" fill="#4b52af"/>
<rect x="156.25" y="271.2" width="18.1" height="2.04" fill="#c4caee"/>
<rect x="66" y="273.19" width="18.1" height="2.04" fill="#eb5141"/>
<rect x="84.05" y="273.19" width="18.1" height="2.04" fill="#f38a7c"/>
<rect x="102.1" y="273.19" width="18.1" height="2.04" fill="#fbdbd6"/>
<rect x="120.15" y="273.19" width="18.1" height="2.04" fill="#d9ddf4"/>
<rect x="138.2" y="273.19" width="18.1" height="2.04" fill="#4b52af"/>
<rect x="156.25" y="273.19" width="18.1" height="2.04" fill="#757ecd"/>
<rect x="66" y="275.19" width="18.1" height="2.04" fill="#f06f5f"/>
<rect x="84.05" y="275.19" width="18.1" height="2.04" fill="#f07161"/>
<rect x="102.1" y="275.19" width="18.1" height="2.04" fill="#f6aba1"/>
<rect x="120.15" y="275.19" width="18.1" height="2.04" fill="#9099db"/>
<rect x="138.2" y="275.19" width="18.1" height="2.04" fill="#4b52af"/>
<rect x="156.25" y="275.19" width="18.1" height="2.04" fill="#7a83cf"/>
<rect x="66" y="277.18" width="18.1" height="2.04" fill="#ee5f4f"/>
<rect x="84.05" y="277.18" width="18.1" height="2.04" fill="#f06e5e"/>
<rect x="102.1" y="277.18" width="18.1" height="2.04" fill="#f06c5c"/>
<rect x="120.15" y="277.18" width="18.1" height="2.04" fill="#d9ddf4"/>
<rect x="138.2" y="277.18" width="18.1" height="2.04" fill="#a3ace2"/>
<rect x="156.25" y="277.18" width="18.1" height="2.04" fill="#8d96d9"/>
<rect x="66" y="279.18" width="18.1" height="2.04" fill="#e83e30"/>
<rect x="84.05" y="279.18" width="18.1" height="2.04" fill="#f17565"/>
<rect x="102.1" y="279.18" width="18.1" height="2.04" fill="#f49b8f"/>
<rect x="120.15" y="279.18" width="18.1" height="2.04" fill="#cbd1f0"/>
<rect x="138.2" y="279.18" width="18.1" height="2.04" fill="#7780ce"/>
<rect x="156.25" y="279.18" width="18.1" height="2.04" fill="#818ad3"/>
<rect x="66" y="281.17" width="18.1" height="2.04" fill="#e94738"/>
<rect x="84.05" y="281.17" width="18.1" height="2.04" fill="#ee6252"/>
<rect x="102.1" y="281.17" width="18.1" height="2.04" fill="#f3f4fc"/>
<rect x="120.15" y="281.17" width="18.1" height="2.04" fill="#d0d5f2"/>
<rect x="138.2" y="281.17" width="18.1" height="2.04" fill="#6e77c9"/>
<rect x="156.25" y="281.17" width="18.1" height="2.04" fill="#969fde"/>
<rect x="66" y="283.17" width="18.1" height="2.04" fill="#f07262"/>
<rect x="84.05" y="283.17" width="18.1" height="2.04" fill="#fbe1dd"/>
<rect x="102.1" y="283.17" width="18.1" height="2.04" fill="#f7b6ae"/>
<rect x="120.15" y="283.17" width="18.1" height="2.04" fill="#8c95d9"/>
<rect x="138.2" y="283.17" width="18.1" height="2.04" fill="#98a1de"/>
<rect x="156.25" y="283.17" width="18.1" height="2.04" fill="#9099db"/>
<rect x="66" y="285.16" width="18.1" height="2.04" fill="#ed5d4d"/>
<rect x="84.05" y="285.16" width="18.1" height="2.04" fill="#f49689"/>
<rect x="102.1" y="285.16" width="18.1" height="2.04" fill="#f4988c"/>
<rect x="120.15" y="285.16" width="18.1" height="2.04" fill="#b9c0ea"/>
<rect x="138.2" y="285.16" width="18.1" height="2.04" fill="#6c75c8"/>
<rect x="156.25" y="285.16" width="18.1" height="2.04" fill="#7f88d2"/>
<rect x="66" y="287.15" width="18.1" height="2.04" fill="#ea4c3d"/>
<rect x="84.05" y="287.15" width="18.1" height="2.04" fill="#f4988c"/>
<rect x="102.1" y="287.15" width="18.1" height="2.04" fill="#f8c2bb"/>
<rect x="120.15" y="287.15" width="18.1" height="2.04" fill="#ced3f1"/>
<rect x="138.2" y="287.15" width="18.1" height="2.04" fill="#8992d7"/>
<rect x="156.25" y="287.15" width="18.1" height="2.04" fill="#7079ca"/>
<rect x="66" y="289.15" width="18.1" height="2.04" fill="#e83f31"/>
<rect x="84.05" y="289.15" width="18.1" height="2.04" fill="#ee6151"/>
<rect x="102.1" y="289.15" width="18.1" height="2.04" fill="#fce7e4"/>
<rect x="120.15" y="289.15" width="18.1" height="2.04" fill="#aab2e5"/>
<rect x="138.2" y="289.15" width="18.1" height="2.04" fill="#4b52af"/>
<rect x="156.25" y="289.15" width="18.1" height="2.04" fill="#8089d2"/>
<rect x="66" y="291.14" width="18.1" height="2.04" fill="#f38b7d"/>
<rect x="84.05" y="291.14" width="18.1" height="2.04" fill="#f7bab2"/>
<rect x="102.1" y="291.14" width="18.1" height="2.04" fill="#fad9d4"/>
<rect x="120.15" y="291.14" width="18.1" height="2.04" fill="#e8eaf8"/>
<rect x="138.2" y="291.14" width="18.1" height="2.04" fill="#969fde"/>
<rect x="156.25" y="291.14" width="18.1" height="2.04" fill="#bec4ec"/>
<rect x="66" y="293.14" width="18.1" height="2.04" fill="#e84133"/>
<rect x="84.05" y="293.14" width="18.1" height="2.04" fill="#ed5c4c"/>
<rect x="102.1" y="293.14" width="18.1" height="2.04" fill="#fad2cd"/>
<rect x="120.15" y="293.14" width="18.1" height="2.04" fill="#b0b8e7"/>
<rect x="138.2" y="293.14" width="18.1" height="2.04" fill="#6871c6"/>
<rect x="156.25" y="293.14" width="18.1" height="2.04" fill="#a5ade3"/>
<rect x="66" y="295.13" width="18.1" height="2.04" fill="#f27c6d"/>
<rect x="84.05" y="295.13" width="18.1" height="2.04" fill="#fad7d2"/>
<rect x="102.1" y="295.13" width="18.1" height="2.04" fill="#f8c7c0"/>
<rect x="120.15" y="295.13" width="18.1" height="2.04" fill="#c5ccee"/>
<rect x="138.2" y="295.13" width="18.1" height="2.04" fill="#6069c1"/>
<rect x="156.25" y="295.13" width="18.1" height="2.04" fill="#5a62bc"/>
<rect x="66" y="297.13" width="18.1" height="2.04" fill="#ec5646"/>
<rect x="84.05" y="297.13" width="18.1" height="2.04" fill="#f28273"/>
<rect x="102.1" y="297.13" width="18.1" height="2.04" fill="#fceae7"/>
<rect x="120.15" y="297.13" width="18.1" height="2.04" fill="#5a62bc"/>
<rect x="138.2" y="297.13" width="18.1" height="2.04" fill="#8992d8"/>
<rect x="156.25" y="297.13" width="18.1" height="2.04" fill="#616ac2"/>
<rect x="66" y="299.12" width="18.1" height="2.04" fill="#ea4a3b"/>
<rect x="84.05" y="299.12" width="18.1" height="2.04" fill="#f7b8af"/>
<rect x="102.1" y="299.12" width="18.1" height="2.04" fill="#f49488"/>
<rect x="120.15" y="299.12" width="18.1" height="2.04" fill="#bcc3eb"/>
<rect x="138.2" y="299.12" width="18.1" height="2.04" fill="#7079ca"/>
<rect x="156.25" y="299.12" width="18.1" height="2.04" fill="#4b52af"/>
<rect x="66" y="301.11" width="18.1" height="2.04" fill="#ee6151"/>
<rect x="84.05" y="301.11" width="18.1" height="2.04" fill="#f5a99e"/>
<rect x="102.1" y="301.11" width="18.1" height="2.04" fill="#f7bcb3"/>
<rect x="120.15" y="301.11" width="18.1" height="2.04" fill="#767fce"/>
<rect x="138.2" y="301.11" width="18.1" height="2.04" fill="#818ad3"/>
<rect x="156.25" y="301.11" width="18.1" height="2.04" fill="#5158b4"/>
<rect x="66" y="303.11" width="18.1" height="2.04" fill="#e53125"/>
<rect x="84.05" y="303.11" width="18.1" height="2.04" fill="#f6b2a9"/>
<rect x="102.1" y="303.11" width="18.1" height="2.04" fill="#f9ccc6"/>
<rect x="120.15" y="303.11" width="18.1" height="2.04" fill="#a0a8e1"/>
<rect x="138.2" y="303.11" width="18.1" height="2.04" fill="#6770c6"/>
<rect x="156.25" y="303.11" width="18.1" height="2.04" fill="#636cc3"/>
<rect x="66" y="305.1" width="18.1" height="2.04" fill="#e42a1e"/>
<rect x="84.05" y="305.1" width="18.1" height="2.04" fill="#f28678"/>
<rect x="102.1" y="305.1" width="18.1" height="2.04" fill="#fbdeda"/>
<rect x="120.15" y="305.1" width="18.1" height="2.04" fill="#848dd5"/>
<rect x="138.2" y="305.1" width="18.1" height="2.04" fill="#4b52af"/>
<rect x="156.25" y="305.1" width="18.1" height="2.04" fill="#9ba3df"/>
<rect x="66" y="307.1" width="18.1" height="2.04" fill="#f07161"/>
<rect x="84.05" y="307.1" width="18.1" height="2.04" fill="#f4978b"/>
<rect x="102.1" y="307.1" width="18.1" height="2.04" fill="#f7beb7"/>
<rect x="120.15" y="307.1" width="18.1" height="2.04" fill="#b6bde9"/>
<rect x="138.2" y="307.1" width="18.1" height="2.04" fill="#636cc4"/>
<rect x="156.25" y="307.1" width="18.1" height="2.04" fill="#737ccc"/>
<rect x="66" y="309.09" width="18.1" height="2.04" fill="#f4988c"/>
<rect x="84.05" y="309.09" width="18.1" height="2.04" fill="#f28577"/>
<rect x="102.1" y="309.09" width="18.1" height="2.04" fill="#fefeff"/>
<rect x="120.15" y="309.09" width="18.1" height="2.04" fill="#fcfcfe"/>
<rect x="138.2" y="309.09" width="18.1" height="2.04" fill="#6c75c8"/>
<rect x="156.25" y="309.09" width="18.1" height="2.04" fill="#717acb"/>
<rect x="66" y="311.09" width="18.1" height="2.04" fill="#e42c20"/>
<rect x="84.05" y="311.09" width="18.1" height="2.04" fill="#ee6454"/>
<rect x="102.1" y="311.09" width="18.1" height="2.04" fill="#f5a79d"/>
<rect x="120.15" y="311.09" width="18.1" height="2.04" fill="#949ddd"/>
<rect x="138.2" y="311.09" width="18.1" height="2.04" fill="#919adb"/>
<rect x="156.25" y="311.09" width="18.1" height="2.04" fill="#4b52af"/>
<rect x="66" y="313.08" width="18.1" height="2.04" fill="#e53124"/>
<rect x="84.05" y="313.08" width="18.1" height="2.04" fill="#f17363"/>
<rect x="102.1" y="313.08" width="18.1" height="2.04" fill="#f6b0a6"/>
<rect x="120.15" y="313.08" width="18.1" height="2.04" fill="#a9b1e4"/>
<rect x="138.2" y="313.08" width="18.1" height="2.04" fill="#99a1df"/>
<rect x="156.25" y="313.08" width="18.1" height="2.04" fill="#6d76c9"/>
<rect x="66" y="315.07" width="18.1" height="2.04" fill="#ec5545"/>
<rect x="84.05" y="315.07" width="18.1" height="2.04" fill="#f49589"/>
<rect x="102.1" y="315.07" width="18.1" height="2.04" fill="#f49e93"/>
<rect x="120.15" y="315.07" width="18.1" height="2.04" fill="#c0c7ed"/>
<rect x="138.2" y="315.07" width="18.1" height="2.04" fill="#4b52af"/>
<rect x="156.25" y="315.07" width="18.1" height="2.04" fill="#9fa8e1"/>
<rect x="66" y="317.07" width="18.1" height="2.04" fill="#eb5142"/>
<rect x="84.05" y="317.07" width="18.1" height="2.04" fill="#f39184"/>
<rect x="102.1" y="317.07" width="18.1" height="2.04" fill="#f7bcb4"/>
<rect x="120.15" y="317.07" width="18.1" height="2.04" fill="#7780ce"/>
<rect x="138.2" y="317.07" width="18.1" height="2.04" fill="#abb2e5"/>
<rect x="156.25" y="317.07" width="18.1" height="2.04" fill="#818ad3"/>
<rect x="66" y="319.06" width="18.1" height="2.04" fill="#e94637"/>
<rect x="84.05" y="319.06" width="18.1" height="2.04" fill="#f07060"/>
<rect x="102.1" y="319.06" width="18.1" height="2.04" fill="#f6aba1"/>
<rect x="120.15" y="319.06" width="18.1" height="2.04" fill="#c5ccee"/>
<rect x="138.2" y="319.06" width="18.1" height="2.04" fill="#828bd4"/>
<rect x="156.25" y="319.06" width="18.1" height="2.04" fill="#b8bfea"/>
<rect x="66" y="321.06" width="18.1" height="2.04" fill="#ea493a"/>
<rect x="84.05" y="321.06" width="18.1" height="2.04" fill="#ef6858"/>
<rect x="102.1" y="321.06" width="18.1" height="2.04" fill="#fcfdfe"/>
<rect x="120.15" y="321.06" width="18.1" height="2.04" fill="#dce0f5"/>
<rect x="138.2" y="321.06" width="18.1" height="2.04" fill="#949ddd"/>
<rect x="156.25" y="321.06" width="18.1" height="2.04" fill="#9ea7e1"/>
<rect x="66" y="323.05" width="18.1" height="2.04" fill="#ec5747"/>
<rect x="84.05" y="323.05" width="18.1" height="2.04" fill="#f06e5e"/>
<rect x="102.1" y="323.05" width="18.1" height="2.04" fill="#f9cbc5"/>
<rect x="120.15" y="323.05" width="18.1" height="2.04" fill="#b2b9e8"/>
<rect x="138.2" y="323.05" width="18.1" height="2.04" fill="#8a93d8"/>
<rect x="156.25" y="323.05" width="18.1" height="2.04" fill="#9ea6e1"/>
<rect x="66" y="325.05" width="18.1" height="2.04" fill="#f06e5e"/>
<rect x="84.05" y="325.05" width="18.1" height="2.04" fill="#f28779"/>
<rect x="102.1" y="325.05" width="18.1" height="2.04" fill="#f17868"/>
<rect x="120.15" y="325.05" width="18.1" height="2.04" fill="#c3caee"/>
<rect x="138.2" y="325.05" width="18.1" height="2.04" fill="#7c85d0"/>
<rect x="156.25" y="325.05" width="18.1" height="2.04" fill="#8b94d9"/>
<rect x="66" y="327.04" width="18.1" height="2.04" fill="#ec5343"/>
<rect x="84.05" y="327.04" width="18.1" height="2.04" fill="#f17666"/>
<rect x="102.1" y="327.04" width="18.1" height="2.04" fill="#fad3ce"/>
<rect x="120.15" y="327.04" width="18.1" height="2.04" fill="#aab2e5"/>
<rect x="138.2" y="327.04" width="18.1" height="2.04" fill="#626bc3"/>
<rect x="156.25" y="327.04" width="18.1" height="2.04" fill="#4d54b1"/>
<rect x="66" y="329.03" width="18.1" height="2.04" fill="#e63528"/>
<rect x="84.05" y="329.03" width="18.1" height="2.04" fill="#f07060"/>
<rect x="102.1" y="329.03" width="18.1" height="2.04" fill="#f27e6e"/>
<rect x="120.15" y="329.03" width="18.1" height="2.04" fill="#bbc2eb"/>
<rect x="138.2" y="329.03" width="18.1" height="2.04" fill="#a2abe2"/>
<rect x="156.25" y="329.03" width="18.1" height="2.04" fill="#636cc4"/>
<rect x="66" y="331.03" width="18.1" height="2.04" fill="#ec5545"/>
<rect x="84.05" y="331.03" width="18.1" height="2.04" fill="#ea493a"/>
<rect x="102.1" y="331.03" width="18.1" height="2.04" fill="#f5a79c"/>
<rect x="120.15" y="331.03" width="18.1" height="2.04" fill="#959edd"/>
<rect x="138.2" y="331.03" width="18.1" height="2.04" fill="#8992d7"/>
<rect x="156.25" y="331.03" width="18.1" height="2.04" fill="#8992d7"/>
<rect x="66" y="333.02" width="18.1" height="2.04" fill="#e63528"/>
<rect x="84.05" y="333.02" width="18.1" height="2.04" fill="#f5a59a"/>
<rect x="102.1" y="333.02" width="18.1" height="2.04" fill="#f5a499"/>
<rect x="120.15" y="333.02" width="18.1" height="2.04" fill="#9ca4e0"/>
<rect x="138.2" y="333.02" width="18.1" height="2.04" fill="#6972c7"/>
<rect x="156.25" y="333.02" width="18.1" height="2.04" fill="#7f88d2"/>
<rect x="66" y="335.02" width="18.1" height="2.04" fill="#ec5545"/>
<rect x="84.05" y="335.02" width="18.1" height="2.04" fill="#f17565"/>
<rect x="102.1" y="335.02" width="18.1" height="2.04" fill="#f9cac4"/>
<rect x="120.15" y="335.02" width="18.1" height="2.04" fill="#717acb"/>
<rect x="138.2" y="335.02" width="18.1" height="2.04" fill="#868fd5"/>
<rect x="156.25" y="335.02" width="18.1" height="2.04" fill="#5b63bd"/>
<rect x="66" y="337.01" width="18.1" height="2.04" fill="#ef6959"/>
<rect x="84.05" y="337.01" width="18.1" height="2.04" fill="#f17869"/>
<rect x="102.1" y="337.01" width="18.1" height="2.04" fill="#f8c1b9"/>
<rect x="120.15" y="337.01" width="18.1" height="2.04" fill="#c9cff0"/>
<rect x="138.2" y="337.01" width="18.1" height="2.04" fill="#7b84d0"/>
<rect x="156.25" y="337.01" width="18.1" height="2.04" fill="#8790d6"/>
<rect x="66" y="339.01" width="18.1" height="2.04" fill="#ec5344"/>
<rect x="84.05" y="339.01" width="18.1" height="2.04" fill="#f06f5f"/>
<rect x="102.1" y="339.01" width="18.1" height="2.04" fill="#ef6757"/>
<rect x="120.15" y="339.01" width="18.1" height="2.04" fill="#d3d8f2"/>
<rect x="138.2" y="339.01" width="18.1" height="2.04" fill="#6972c7"/>
<rect x="156.25" y="339.01" width="18.1" height="2.04" fill="#b8bfea"/>
<rect x="66" y="325.9" width="18.1" height="2.6" fill="#5c4ea0"/>
<rect x="84.05" y="325.9" width="18.1" height="2.6" fill="#b0aada"/>
<rect x="102.1" y="325.9" width="18.1" height="2.6" fill="#e2dcf0"/>
<rect x="120.15" y="325.9" width="18.1" height="2.6" fill="#e8cadb"/>
<rect x="138.2" y="325.9" width="18.1" height="2.6" fill="#e8a2a8"/>
<rect x="156.25" y="325.9" width="18.1" height="2.6" fill="#e27a78"/>
<rect x="156.25" y="337.9" width="18.1" height="1.8" fill="#e0849a"/>
</g>
<path d="M93.08 45.4V37.4H111.12V45.4" fill="none" stroke="#555" stroke-width="0.8"/>
<path d="M147.23 45.4V37.4H165.28V45.4" fill="none" stroke="#555" stroke-width="0.8"/>
<path d="M75.03 45.4V33.4H102.1V37.4" fill="none" stroke="#555" stroke-width="0.8"/>
<path d="M129.18 45.4V33.4H156.25V37.4" fill="none" stroke="#555" stroke-width="0.8"/>
<path d="M88.56 33.4V17.9H142.71V33.4" fill="none" stroke="#555" stroke-width="0.8"/>
<path d="M65 46.05H64.28V47.34H65" fill="none" stroke="#111" stroke-width="0.55"/>
<path d="M64.28 46.69H64.17V48.64H65" fill="none" stroke="#111" stroke-width="0.55"/>
<path d="M64.17 47.67H64.06V49.93H65" fill="none" stroke="#111" stroke-width="0.55"/>
<path d="M64.06 48.8H63.96V51.23H65" fill="none" stroke="#111" stroke-width="0.55"/>
<path d="M63.96 50.01H63.86V52.52H65" fill="none" stroke="#111" stroke-width="0.55"/>
<path d="M63.86 51.27H63.76V53.82H65" fill="none" stroke="#111" stroke-width="0.55"/>
<path d="M63.76 52.54H63.62V55.11H65" fill="none" stroke="#111" stroke-width="0.55"/>
<path d="M63.62 53.83H63.48V56.41H65" fill="none" stroke="#111" stroke-width="0.55"/>
<path d="M63.48 55.12H62.83V57.7H65" fill="none" stroke="#111" stroke-width="0.55"/>
<path d="M62.83 56.41H62.73V58.99H65" fill="none" stroke="#111" stroke-width="0.55"/>
<path d="M62.73 57.7H62.63V60.29H65" fill="none" stroke="#111" stroke-width="0.55"/>
<path d="M62.63 59H62.53V61.58H65" fill="none" stroke="#111" stroke-width="0.55"/>
<path d="M62.53 60.29H62.28V62.88H65" fill="none" stroke="#111" stroke-width="0.55"/>
<path d="M62.28 61.58H62.18V64.17H65" fill="none" stroke="#111" stroke-width="0.55"/>
<path d="M62.18 62.88H62.08V65.47H65" fill="none" stroke="#111" stroke-width="0.55"/>
<path d="M62.08 64.17H61.85V66.76H65" fill="none" stroke="#111" stroke-width="0.55"/>
<path d="M61.85 65.47H61.75V68.06H65" fill="none" stroke="#111" stroke-width="0.55"/>
<path d="M61.75 66.76H61.34V69.35H65" fill="none" stroke="#111" stroke-width="0.55"/>
<path d="M65 70.44H64.32V71.55H65" fill="none" stroke="#111" stroke-width="0.5"/>
<path d="M65 72.63H64.44V73.37H65" fill="none" stroke="#111" stroke-width="0.5"/>
<path d="M64.44 73H63.79V74.14H65" fill="none" stroke="#111" stroke-width="0.5"/>
<path d="M65 75.09H64.73V75.93H65" fill="none" stroke="#111" stroke-width="0.5"/>
<polygon points="65,72.23 63.43,74.54 65,76.26" fill="#222" fill-opacity="0.5"/>
<path d="M63.79 73.57H63.13V75.51H64.73" fill="none" stroke="#111" stroke-width="0.5"/>
<polygon points="65,70 62.79,72.77 65,76.26" fill="#222" fill-opacity="0.5"/>
<path d="M64.32 70.99H62.49V74.54H63.13" fill="none" stroke="#111" stroke-width="0.5"/>
<path d="M65 76.64H64.39V77.38H65" fill="none" stroke="#111" stroke-width="0.5"/>
<path d="M65 78.27H64.63V79.25H65" fill="none" stroke="#111" stroke-width="0.5"/>
<polygon points="65,76.26 64.12,77.88 65,79.7" fill="#222" fill-opacity="0.5"/>
<path d="M64.39 77.01H63.82V78.76H64.63" fill="none" stroke="#111" stroke-width="0.5"/>
<path d="M65 81.49H64.65V82.21H65" fill="none" stroke="#111" stroke-width="0.5"/>
<path d="M65 80.37H64.2V81.85H64.65" fill="none" stroke="#111" stroke-width="0.5"/>
<polygon points="65,76.26 63.33,79.5 65,82.48" fill="#222" fill-opacity="0.5"/>
<path d="M63.82 77.88H63.03V81.11H64.2" fill="none" stroke="#111" stroke-width="0.5"/>
<polygon points="65,70 61.88,76.13 65,82.48" fill="#222" fill-opacity="0.5"/>
<path d="M62.49 72.77H61.58V79.5H63.03" fill="none" stroke="#111" stroke-width="0.5"/>
<path d="M65 82.97H64.52V84.12H65" fill="none" stroke="#111" stroke-width="0.5"/>
<path d="M65 85.35H64.65V86.47H65" fill="none" stroke="#111" stroke-width="0.5"/>
<polygon points="65,82.48 64.33,84.73 65,87.03" fill="#222" fill-opacity="0.5"/>
<path d="M64.52 83.54H64.03V85.91H64.65" fill="none" stroke="#111" stroke-width="0.5"/>
<path d="M65 88.38H64.59V89.18H65" fill="none" stroke="#111" stroke-width="0.5"/>
<path d="M65 87.53H64.16V88.78H64.59" fill="none" stroke="#111" stroke-width="0.5"/>
<polygon points="65,82.48 63.65,86.44 65,89.62" fill="#222" fill-opacity="0.5"/>
<path d="M64.03 84.73H63.35V88.16H64.16" fill="none" stroke="#111" stroke-width="0.5"/>
<path d="M65 90.24H64.36V91.44H65" fill="none" stroke="#111" stroke-width="0.5"/>
<path d="M65 92.57H64.46V93.63H65" fill="none" stroke="#111" stroke-width="0.5"/>
<path d="M65 94.52H64.45V95.45H65" fill="none" stroke="#111" stroke-width="0.5"/>
<polygon points="65,92.02 64.17,94.05 65,96" fill="#222" fill-opacity="0.5"/>
<path d="M64.46 93.1H63.87V94.99H64.45" fill="none" stroke="#111" stroke-width="0.5"/>
<polygon points="65,89.62 63.41,92.44 65,96" fill="#222" fill-opacity="0.5"/>
<path d="M64.36 90.84H63.11V94.05H63.87" fill="none" stroke="#111" stroke-width="0.5"/>
<polygon points="65,82.48 62.26,89.44 65,96" fill="#222" fill-opacity="0.5"/>
<path d="M63.35 86.44H61.96V92.44H63.11" fill="none" stroke="#111" stroke-width="0.5"/>
<path d="M61.58 76.13H61V89.44H61.96" fill="none" stroke="#111" stroke-width="0.5"/>
<path d="M61.34 68.06H60.4V82.79H61" fill="none" stroke="#666" stroke-width="0.6"/>
<path d="M65 97.69H64.59V98.56H65" fill="none" stroke="#111" stroke-width="0.5"/>
<path d="M65 96.62H64.02V98.13H64.59" fill="none" stroke="#111" stroke-width="0.5"/>
<path d="M65 99.33H64.42V100.05H65" fill="none" stroke="#111" stroke-width="0.5"/>
<path d="M65 101.96H64.56V102.72H65" fill="none" stroke="#111" stroke-width="0.5"/>
<path d="M65 101H64.13V102.34H64.56" fill="none" stroke="#111" stroke-width="0.5"/>
<polygon points="65,99 63.63,100.68 65,103.09" fill="#222" fill-opacity="0.5"/>
<path d="M64.42 99.69H63.33V101.67H64.13" fill="none" stroke="#111" stroke-width="0.5"/>
<polygon points="65,96 62.93,99.03 65,103.09" fill="#222" fill-opacity="0.5"/>
<path d="M64.02 97.37H62.63V100.68H63.33" fill="none" stroke="#111" stroke-width="0.5"/>
<path d="M65 103.47H64.37V104.5H65" fill="none" stroke="#111" stroke-width="0.5"/>
<path d="M65 105.43H64.61V106.18H65" fill="none" stroke="#111" stroke-width="0.5"/>
<path d="M65 107.05H64.46V107.85H65" fill="none" stroke="#111" stroke-width="0.5"/>
<polygon points="65,105.15 64.37,106.63 65,108.27" fill="#222" fill-opacity="0.5"/>
<path d="M64.61 105.8H64.07V107.45H64.46" fill="none" stroke="#111" stroke-width="0.5"/>
<polygon points="65,103.09 63.8,105.31 65,108.27" fill="#222" fill-opacity="0.5"/>
<path d="M64.37 103.99H63.5V106.63H64.07" fill="none" stroke="#111" stroke-width="0.5"/>
<path d="M65 108.95H64.64V110.14H65" fill="none" stroke="#111" stroke-width="0.5"/>
<polygon points="65,108.27 64.42,110.44 65,112" fill="#222" fill-opacity="0.5"/>
<path d="M64.64 109.55H64.12V111.32H65" fill="none" stroke="#111" stroke-width="0.5"/>
<polygon points="65,103.09 62.99,107.87 65,112" fill="#222" fill-opacity="0.5"/>
<path d="M63.5 105.31H62.69V110.44H64.12" fill="none" stroke="#111" stroke-width="0.5"/>
<path d="M62.63 99.03H61.34V107.87H62.69" fill="none" stroke="#111" stroke-width="0.5"/>
<path d="M65 112.68H64.38V114.03H65" fill="none" stroke="#111" stroke-width="0.5"/>
<path d="M65 115.23H64.43V116.14H65" fill="none" stroke="#111" stroke-width="0.5"/>
<polygon points="65,112 64.06,114.52 65,116.53" fill="#222" fill-opacity="0.5"/>
<path d="M64.38 113.36H63.76V115.68H64.43" fill="none" stroke="#111" stroke-width="0.5"/>
<path d="M65 117.02H64.38V117.88H65" fill="none" stroke="#111" stroke-width="0.5"/>
<path d="M64.38 117.45H63.99V118.88H65" fill="none" stroke="#111" stroke-width="0.5"/>
<polygon points="65,112 63.11,116.34 65,119.49" fill="#222" fill-opacity="0.5"/>
<path d="M63.76 114.52H62.81V118.16H63.99" fill="none" stroke="#111" stroke-width="0.5"/>
<path d="M65 120.15H64.47V121.3H65" fill="none" stroke="#111" stroke-width="0.5"/>
<path d="M65 122.45H64.49V123.5H65" fill="none" stroke="#111" stroke-width="0.5"/>
<path d="M65 124.39H64.4V125.45H65" fill="none" stroke="#111" stroke-width="0.5"/>
<polygon points="65,121.78 63.94,123.95 65,126" fill="#222" fill-opacity="0.5"/>
<path d="M64.49 122.98H63.64V124.92H64.4" fill="none" stroke="#111" stroke-width="0.5"/>
<polygon points="65,119.49 63.15,122.34 65,126" fill="#222" fill-opacity="0.5"/>
<path d="M64.47 120.72H62.85V123.95H63.64" fill="none" stroke="#111" stroke-width="0.5"/>
<path d="M62.81 116.34H61.73V122.34H62.85" fill="none" stroke="#111" stroke-width="0.5"/>
<path d="M65 126.38H64.61V127.12H65" fill="none" stroke="#111" stroke-width="0.5"/>
<path d="M65 127.86H64.43V128.71H65" fill="none" stroke="#111" stroke-width="0.5"/>
<polygon points="65,126 64.04,127.52 65,129.17" fill="#222" fill-opacity="0.5"/>
<path d="M64.61 126.75H63.74V128.28H64.43" fill="none" stroke="#111" stroke-width="0.5"/>
<path d="M65 129.67H64.65V130.68H65" fill="none" stroke="#111" stroke-width="0.5"/>
<path d="M65 131.66H64.67V132.68H65" fill="none" stroke="#111" stroke-width="0.5"/>
<polygon points="65,129.17 64.31,131.17 65,133.25" fill="#222" fill-opacity="0.5"/>
<path d="M64.65 130.17H64.01V132.17H64.67" fill="none" stroke="#111" stroke-width="0.5"/>
<polygon points="65,126 63.22,129.34 65,133.25" fill="#222" fill-opacity="0.5"/>
<path d="M63.74 127.52H62.92V131.17H64.01" fill="none" stroke="#111" stroke-width="0.5"/>
<path d="M65 133.9H64.59V134.94H65" fill="none" stroke="#111" stroke-width="0.5"/>
<path d="M65 135.96H64.34V137H65" fill="none" stroke="#111" stroke-width="0.5"/>
<polygon points="65,135.33 64.19,137.29 65,138.78" fill="#222" fill-opacity="0.5"/>
<path d="M64.34 136.48H63.89V138.1H65" fill="none" stroke="#111" stroke-width="0.5"/>
<polygon points="65,133.25 63.52,135.85 65,138.78" fill="#222" fill-opacity="0.5"/>
<path d="M64.59 134.42H63.22V137.29H63.89" fill="none" stroke="#111" stroke-width="0.5"/>
<polygon points="65,126 61.99,132.6 65,138.78" fill="#222" fill-opacity="0.5"/>
<path d="M62.92 129.34H61.69V135.85H63.22" fill="none" stroke="#111" stroke-width="0.5"/>
<path d="M65 139.23H64.55V140.1H65" fill="none" stroke="#111" stroke-width="0.5"/>
<path d="M65 141.06H64.52V142.01H65" fill="none" stroke="#111" stroke-width="0.5"/>
<polygon points="65,140.51 64.08,142.25 65,143.53" fill="#222" fill-opacity="0.5"/>
<path d="M64.52 141.53H63.78V142.97H65" fill="none" stroke="#111" stroke-width="0.5"/>
<polygon points="65,138.78 63.42,140.96 65,143.53" fill="#222" fill-opacity="0.5"/>
<path d="M64.55 139.66H63.12V142.25H63.78" fill="none" stroke="#111" stroke-width="0.5"/>
<path d="M65 144.1H64.55V145.32H65" fill="none" stroke="#111" stroke-width="0.5"/>
<path d="M65 146.49H64.59V147.46H65" fill="none" stroke="#111" stroke-width="0.5"/>
<polygon points="65,143.53 64.05,145.84 65,147.92" fill="#222" fill-opacity="0.5"/>
<path d="M64.55 144.71H63.75V146.98H64.59" fill="none" stroke="#111" stroke-width="0.5"/>
<path d="M65 148.53H64.66V149.72H65" fill="none" stroke="#111" stroke-width="0.5"/>
<path d="M65 150.75H64.57V151.71H65" fill="none" stroke="#111" stroke-width="0.5"/>
<polygon points="65,147.92 64.22,150.18 65,152.23" fill="#222" fill-opacity="0.5"/>
<path d="M64.66 149.12H63.92V151.23H64.57" fill="none" stroke="#111" stroke-width="0.5"/>
<polygon points="65,143.53 63.15,148.01 65,152.23" fill="#222" fill-opacity="0.5"/>
<path d="M63.75 145.84H62.85V150.18H63.92" fill="none" stroke="#111" stroke-width="0.5"/>
<polygon points="65,138.78 61.9,144.48 65,152.23" fill="#222" fill-opacity="0.5"/>
<path d="M63.12 140.96H61.6V148.01H62.85" fill="none" stroke="#111" stroke-width="0.5"/>
<path d="M61.69 132.6H59.75V144.48H61.6" fill="none" stroke="#111" stroke-width="0.5"/>
<path d="M65 152.75H64.49V153.91H65" fill="none" stroke="#111" stroke-width="0.5"/>
<polygon points="65,152.23 64.09,154.25 65,155.8" fill="#222" fill-opacity="0.5"/>
<path d="M64.49 153.33H63.79V155.17H65" fill="none" stroke="#111" stroke-width="0.5"/>
<path d="M65 157.44H64.35V158.36H65" fill="none" stroke="#111" stroke-width="0.5"/>
<polygon points="65,155.8 63.97,157.15 65,158.87" fill="#222" fill-opacity="0.5"/>
<path d="M65 156.41H63.67V157.9H64.35" fill="none" stroke="#111" stroke-width="0.5"/>
<polygon points="65,152.23 63.21,155.7 65,158.87" fill="#222" fill-opacity="0.5"/>
<path d="M63.79 154.25H62.91V157.15H63.67" fill="none" stroke="#111" stroke-width="0.5"/>
<path d="M65 159.34H64.42V160.18H65" fill="none" stroke="#111" stroke-width="0.5"/>
<path d="M64.42 159.76H63.7V161.08H65" fill="none" stroke="#111" stroke-width="0.5"/>
<path d="M65 163.18H64.65V163.89H65" fill="none" stroke="#111" stroke-width="0.5"/>
<path d="M65 162.25H64.12V163.53H64.65" fill="none" stroke="#111" stroke-width="0.5"/>
<path d="M65 164.74H64.67V165.58H65" fill="none" stroke="#111" stroke-width="0.5"/>
<polygon points="65,161.6 63.92,164.02 65,166" fill="#222" fill-opacity="0.5"/>
<path d="M64.12 162.89H63.62V165.16H64.67" fill="none" stroke="#111" stroke-width="0.5"/>
<polygon points="65,158.87 63.09,162.22 65,166" fill="#222" fill-opacity="0.5"/>
<path d="M63.7 160.42H62.79V164.02H63.62" fill="none" stroke="#111" stroke-width="0.5"/>
<polygon points="65,152.23 61.93,158.96 65,166" fill="#222" fill-opacity="0.5"/>
<path d="M62.91 155.7H61.63V162.22H62.79" fill="none" stroke="#111" stroke-width="0.5"/>
<path d="M65 167.15H64.45V167.86H65" fill="none" stroke="#111" stroke-width="0.5"/>
<path d="M65 166.41H64.04V167.51H64.45" fill="none" stroke="#111" stroke-width="0.5"/>
<path d="M65 168.77H64.73V169.72H65" fill="none" stroke="#111" stroke-width="0.5"/>
<polygon points="65,166 63.81,168.1 65,170.14" fill="#222" fill-opacity="0.5"/>
<path d="M64.04 166.96H63.51V169.24H64.73" fill="none" stroke="#111" stroke-width="0.5"/>
<path d="M65 170.82H64.47V171.94H65" fill="none" stroke="#111" stroke-width="0.5"/>
<polygon points="65,166 63,169.74 65,172.38" fill="#222" fill-opacity="0.5"/>
<path d="M63.51 168.1H62.7V171.38H64.47" fill="none" stroke="#111" stroke-width="0.5"/>
<path d="M65 172.79H64.65V173.56H65" fill="none" stroke="#111" stroke-width="0.5"/>
<path d="M65 174.36H64.54V175.14H65" fill="none" stroke="#111" stroke-width="0.5"/>
<polygon points="65,172.38 64.1,173.96 65,175.5" fill="#222" fill-opacity="0.5"/>
<path d="M64.65 173.17H63.8V174.75H64.54" fill="none" stroke="#111" stroke-width="0.5"/>
<path d="M65 176.06H64.65V177.23H65" fill="none" stroke="#111" stroke-width="0.5"/>
<path d="M65 178.28H64.41V179.35H65" fill="none" stroke="#111" stroke-width="0.5"/>
<polygon points="65,175.5 64.24,177.73 65,180" fill="#222" fill-opacity="0.5"/>
<path d="M64.65 176.64H63.94V178.81H64.41" fill="none" stroke="#111" stroke-width="0.5"/>
<polygon points="65,172.38 63.45,175.85 65,180" fill="#222" fill-opacity="0.5"/>
<path d="M63.8 173.96H63.15V177.73H63.94" fill="none" stroke="#111" stroke-width="0.5"/>
<polygon points="65,166 62,172.79 65,180" fill="#222" fill-opacity="0.5"/>
<path d="M62.7 169.74H61.7V175.85H63.15" fill="none" stroke="#111" stroke-width="0.5"/>
<path d="M61.63 158.96H59.9V172.79H61.7" fill="none" stroke="#111" stroke-width="0.5"/>
<path d="M59.75 138.54H57.5V165.88H59.9" fill="none" stroke="#111" stroke-width="0.5"/>
<path d="M65 181.26H64.63V182.01H65" fill="none" stroke="#111" stroke-width="0.5"/>
<path d="M65 180.41H64.05V181.64H64.63" fill="none" stroke="#111" stroke-width="0.5"/>
<path d="M65 182.7H64.63V183.61H65" fill="none" stroke="#111" stroke-width="0.5"/>
<path d="M65 184.56H64.35V185.65H65" fill="none" stroke="#111" stroke-width="0.5"/>
<polygon points="65,182.33 64.02,184.13 65,186.32" fill="#222" fill-opacity="0.5"/>
<path d="M64.63 183.15H63.72V185.11H64.35" fill="none" stroke="#111" stroke-width="0.5"/>
<polygon points="65,180 63.34,182.58 65,186.32" fill="#222" fill-opacity="0.5"/>
<path d="M64.05 181.03H63.04V184.13H63.72" fill="none" stroke="#111" stroke-width="0.5"/>
<path d="M65 186.81H64.7V187.87H65" fill="none" stroke="#111" stroke-width="0.5"/>
<path d="M65 189.13H64.48V190.25H65" fill="none" stroke="#111" stroke-width="0.5"/>
<polygon points="65,186.32 63.97,188.51 65,190.68" fill="#222" fill-opacity="0.5"/>
<path d="M64.7 187.34H63.67V189.69H64.48" fill="none" stroke="#111" stroke-width="0.5"/>
<polygon points="65,180 62.4,185.55 65,190.68" fill="#222" fill-opacity="0.5"/>
<path d="M63.04 182.58H62.1V188.51H63.67" fill="none" stroke="#111" stroke-width="0.5"/>
<path d="M65 191.06H64.35V192.12H65" fill="none" stroke="#111" stroke-width="0.5"/>
<path d="M65 193.19H64.38V194.06H65" fill="none" stroke="#111" stroke-width="0.5"/>
<path d="M64.38 193.62H63.73V195.11H65" fill="none" stroke="#111" stroke-width="0.5"/>
<polygon points="65,190.68 63.44,192.98 65,195.68" fill="#222" fill-opacity="0.5"/>
<path d="M64.35 191.59H63.14V194.37H63.73" fill="none" stroke="#111" stroke-width="0.5"/>
<path d="M65 196.04H64.38V196.77H65" fill="none" stroke="#111" stroke-width="0.5"/>
<path d="M64.38 196.41H63.99V197.56H65" fill="none" stroke="#111" stroke-width="0.5"/>
<path d="M65 198.44H64.44V199.46H65" fill="none" stroke="#111" stroke-width="0.5"/>
<polygon points="65,195.68 63.78,197.97 65,200" fill="#222" fill-opacity="0.5"/>
<path d="M63.99 196.98H63.48V198.95H64.44" fill="none" stroke="#111" stroke-width="0.5"/>
<polygon points="65,190.68 62.62,195.47 65,200" fill="#222" fill-opacity="0.5"/>
<path d="M63.14 192.98H62.32V197.97H63.48" fill="none" stroke="#111" stroke-width="0.5"/>
<path d="M62.1 185.55H61V195.47H62.32" fill="none" stroke="#111" stroke-width="0.5"/>
<path d="M65 201.59H64.67V202.48H65" fill="none" stroke="#111" stroke-width="0.5"/>
<path d="M65 200.59H63.94V202.03H64.67" fill="none" stroke="#111" stroke-width="0.5"/>
<path d="M65 203.41H64.7V204.29H65" fill="none" stroke="#111" stroke-width="0.5"/>
<path d="M65 205.3H64.55V206.43H65" fill="none" stroke="#111" stroke-width="0.5"/>
<polygon points="65,202.96 64.29,204.86 65,206.99" fill="#222" fill-opacity="0.5"/>
<path d="M64.7 203.85H63.99V205.86H64.55" fill="none" stroke="#111" stroke-width="0.5"/>
<polygon points="65,200 63.64,203.09 65,206.99" fill="#222" fill-opacity="0.5"/>
<path d="M63.94 201.31H63.34V204.86H63.99" fill="none" stroke="#111" stroke-width="0.5"/>
<path d="M65 207.55H64.59V208.5H65" fill="none" stroke="#111" stroke-width="0.5"/>
<path d="M65 210.51H64.63V211.37H65" fill="none" stroke="#111" stroke-width="0.5"/>
<polygon points="65,208.88 64.5,210.23 65,211.89" fill="#222" fill-opacity="0.5"/>
<path d="M65 209.52H64.2V210.94H64.63" fill="none" stroke="#111" stroke-width="0.5"/>
<polygon points="65,206.99 64.02,209.13 65,211.89" fill="#222" fill-opacity="0.5"/>
<path d="M64.59 208.03H63.72V210.23H64.2" fill="none" stroke="#111" stroke-width="0.5"/>
<polygon points="65,200 62.55,206.11 65,211.89" fill="#222" fill-opacity="0.5"/>
<path d="M63.34 203.09H62.25V209.13H63.72" fill="none" stroke="#111" stroke-width="0.5"/>
<path d="M65 212.5H64.68V213.59H65" fill="none" stroke="#111" stroke-width="0.5"/>
<path d="M65 214.49H64.72V215.2H65" fill="none" stroke="#111" stroke-width="0.5"/>
<path d="M65 215.94H64.4V216.88H65" fill="none" stroke="#111" stroke-width="0.5"/>
<polygon points="65,214.06 64.02,215.63 65,217.37" fill="#222" fill-opacity="0.5"/>
<path d="M64.72 214.85H63.72V216.41H64.4" fill="none" stroke="#111" stroke-width="0.5"/>
<polygon points="65,211.89 63.46,214.34 65,217.37" fill="#222" fill-opacity="0.5"/>
<path d="M64.68 213.04H63.16V215.63H63.72" fill="none" stroke="#111" stroke-width="0.5"/>
<path d="M65 217.76H64.36V218.62H65" fill="none" stroke="#111" stroke-width="0.5"/>
<polygon points="65,217.37 64.24,218.96 65,220.39" fill="#222" fill-opacity="0.5"/>
<path d="M64.36 218.19H63.94V219.74H65" fill="none" stroke="#111" stroke-width="0.5"/>
<path d="M65 220.97H64.61V222.11H65" fill="none" stroke="#111" stroke-width="0.5"/>
<polygon points="65,220.39 64.35,222.44 65,224" fill="#222" fill-opacity="0.5"/>
<path d="M64.61 221.54H64.05V223.34H65" fill="none" stroke="#111" stroke-width="0.5"/>
<polygon points="65,217.37 63.63,220.7 65,224" fill="#222" fill-opacity="0.5"/>
<path d="M63.94 218.96H63.33V222.44H64.05" fill="none" stroke="#111" stroke-width="0.5"/>
<polygon points="65,211.89 62.35,217.52 65,224" fill="#222" fill-opacity="0.5"/>
<path d="M63.16 214.34H62.05V220.7H63.33" fill="none" stroke="#111" stroke-width="0.5"/>
<path d="M62.25 206.11H61V217.52H62.05" fill="none" stroke="#111" stroke-width="0.5"/>
<path d="M65 224.56H64.63V225.61H65" fill="none" stroke="#111" stroke-width="0.5"/>
<path d="M65 226.44H64.54V227.31H65" fill="none" stroke="#111" stroke-width="0.5"/>
<path d="M64.54 226.88H63.99V228.4H65" fill="none" stroke="#111" stroke-width="0.5"/>
<polygon points="65,224 63.72,226.36 65,228.96" fill="#222" fill-opacity="0.5"/>
<path d="M64.63 225.08H63.42V227.64H63.99" fill="none" stroke="#111" stroke-width="0.5"/>
<path d="M65 229.39H64.53V230.17H65" fill="none" stroke="#111" stroke-width="0.5"/>
<path d="M65 230.93H64.58V231.83H65" fill="none" stroke="#111" stroke-width="0.5"/>
<polygon points="65,228.96 64.43,230.58 65,232.33" fill="#222" fill-opacity="0.5"/>
<path d="M64.53 229.78H64.13V231.38H64.58" fill="none" stroke="#111" stroke-width="0.5"/>
<path d="M65 233.75H64.64V234.48H65" fill="none" stroke="#111" stroke-width="0.5"/>
<path d="M65 232.82H64.07V234.12H64.64" fill="none" stroke="#111" stroke-width="0.5"/>
<polygon points="65,228.96 63.82,232.03 65,234.77" fill="#222" fill-opacity="0.5"/>
<path d="M64.13 230.58H63.52V233.47H64.07" fill="none" stroke="#111" stroke-width="0.5"/>
<polygon points="65,224 62.73,229.19 65,234.77" fill="#222" fill-opacity="0.5"/>
<path d="M63.42 226.36H62.43V232.03H63.52" fill="none" stroke="#111" stroke-width="0.5"/>
<path d="M65 235.25H64.68V236.36H65" fill="none" stroke="#111" stroke-width="0.5"/>
<path d="M65 237.48H64.62V238.59H65" fill="none" stroke="#111" stroke-width="0.5"/>
<polygon points="65,234.77 64.44,236.92 65,239.21" fill="#222" fill-opacity="0.5"/>
<path d="M64.68 235.81H64.14V238.03H64.62" fill="none" stroke="#111" stroke-width="0.5"/>
<path d="M65 240.89H64.39V241.73H65" fill="none" stroke="#111" stroke-width="0.5"/>
<path d="M65 239.85H63.74V241.31H64.39" fill="none" stroke="#111" stroke-width="0.5"/>
<path d="M65 242.6H64.72V243.3H65" fill="none" stroke="#111" stroke-width="0.5"/>
<path d="M64.72 242.95H64.31V244.02H65" fill="none" stroke="#111" stroke-width="0.5"/>
<polygon points="65,239.21 63.55,242.03 65,244.46" fill="#222" fill-opacity="0.5"/>
<path d="M63.74 240.58H63.25V243.48H64.31" fill="none" stroke="#111" stroke-width="0.5"/>
<polygon points="65,234.77 62.56,239.48 65,244.46" fill="#222" fill-opacity="0.5"/>
<path d="M64.14 236.92H62.26V242.03H63.25" fill="none" stroke="#111" stroke-width="0.5"/>
<path d="M62.43 229.19H60.78V239.48H62.26" fill="none" stroke="#111" stroke-width="0.5"/>
<path d="M65 244.87H64.66V245.61H65" fill="none" stroke="#111" stroke-width="0.5"/>
<path d="M64.66 245.24H64V246.55H65" fill="none" stroke="#111" stroke-width="0.5"/>
<path d="M65 248.97H64.68V249.79H65" fill="none" stroke="#111" stroke-width="0.5"/>
<polygon points="65,247.16 64.59,248.62 65,250.17" fill="#222" fill-opacity="0.5"/>
<path d="M65 247.85H64.29V249.38H64.68" fill="none" stroke="#111" stroke-width="0.5"/>
<polygon points="65,244.46 63.43,247.26 65,250.17" fill="#222" fill-opacity="0.5"/>
<path d="M64 245.9H63.13V248.62H64.29" fill="none" stroke="#111" stroke-width="0.5"/>
<path d="M65 251.22H64.7V251.92H65" fill="none" stroke="#111" stroke-width="0.5"/>
<path d="M65 250.57H64.34V251.57H64.7" fill="none" stroke="#111" stroke-width="0.5"/>
<path d="M65 252.74H64.59V253.59H65" fill="none" stroke="#111" stroke-width="0.5"/>
<polygon points="65,250.17 64.22,252.12 65,254.06" fill="#222" fill-opacity="0.5"/>
<path d="M64.34 251.07H63.92V253.16H64.59" fill="none" stroke="#111" stroke-width="0.5"/>
<path d="M65 255.81H64.68V256.63H65" fill="none" stroke="#111" stroke-width="0.5"/>
<path d="M65 254.71H64.01V256.22H64.68" fill="none" stroke="#111" stroke-width="0.5"/>
<polygon points="65,250.17 63.43,253.79 65,257" fill="#222" fill-opacity="0.5"/>
<path d="M63.92 252.12H63.13V255.47H64.01" fill="none" stroke="#111" stroke-width="0.5"/>
<polygon points="65,244.46 62.29,250.52 65,257" fill="#222" fill-opacity="0.5"/>
<path d="M63.13 247.26H61.99V253.79H63.13" fill="none" stroke="#111" stroke-width="0.5"/>
<path d="M60.78 234.34H60.5V250.52H61.99" fill="none" stroke="#111" stroke-width="0.5"/>
<path d="M65 257.3H64.41V258.15H65" fill="none" stroke="#111" stroke-width="0.5"/>
<path d="M65 259.29H64.61V260.31H65" fill="none" stroke="#111" stroke-width="0.5"/>
<polygon points="65,257 64.31,258.76 65,260.74" fill="#222" fill-opacity="0.5"/>
<path d="M64.41 257.72H64.01V259.8H64.61" fill="none" stroke="#111" stroke-width="0.5"/>
<path d="M65 261.22H64.72V262.12H65" fill="none" stroke="#111" stroke-width="0.5"/>
<path d="M64.72 261.67H64.28V263.14H65" fill="none" stroke="#111" stroke-width="0.5"/>
<polygon points="65,257 63.71,260.58 65,263.73" fill="#222" fill-opacity="0.5"/>
<path d="M64.01 258.76H63.41V262.4H64.28" fill="none" stroke="#111" stroke-width="0.5"/>
<path d="M65 264.28H64.44V265.16H65" fill="none" stroke="#111" stroke-width="0.5"/>
<path d="M65 266.87H64.6V267.65H65" fill="none" stroke="#111" stroke-width="0.5"/>
<path d="M65 265.96H63.99V267.26H64.6" fill="none" stroke="#111" stroke-width="0.5"/>
<polygon points="65,263.73 63.54,265.67 65,268" fill="#222" fill-opacity="0.5"/>
<path d="M64.44 264.72H63.24V266.61H63.99" fill="none" stroke="#111" stroke-width="0.5"/>
<path d="M65 269.62H64.37V270.47H65" fill="none" stroke="#111" stroke-width="0.5"/>
<polygon points="65,268 64.16,269.35 65,271" fill="#222" fill-opacity="0.5"/>
<path d="M65 268.65H63.86V270.05H64.37" fill="none" stroke="#111" stroke-width="0.5"/>
<polygon points="65,263.73 62.58,267.51 65,271" fill="#222" fill-opacity="0.5"/>
<path d="M63.24 265.67H62.28V269.35H63.86" fill="none" stroke="#111" stroke-width="0.5"/>
<path d="M63.41 260.58H61.08V267.51H62.28" fill="none" stroke="#111" stroke-width="0.5"/>
<path d="M65 271.45H64.72V272.37H65" fill="none" stroke="#111" stroke-width="0.5"/>
<path d="M65 273.29H64.58V274.08H65" fill="none" stroke="#111" stroke-width="0.5"/>
<polygon points="65,271 64.31,272.79 65,274.42" fill="#222" fill-opacity="0.5"/>
<path d="M64.72 271.91H64.01V273.68H64.58" fill="none" stroke="#111" stroke-width="0.5"/>
<path d="M65 274.7H64.46V275.42H65" fill="none" stroke="#111" stroke-width="0.5"/>
<path d="M64.46 275.06H64.15V276.29H65" fill="none" stroke="#111" stroke-width="0.5"/>
<polygon points="65,271 63.53,274.24 65,276.72" fill="#222" fill-opacity="0.5"/>
<path d="M64.01 272.79H63.23V275.68H64.15" fill="none" stroke="#111" stroke-width="0.5"/>
<path d="M65 278.17H64.38V278.9H65" fill="none" stroke="#111" stroke-width="0.5"/>
<path d="M65 277.26H63.81V278.54H64.38" fill="none" stroke="#111" stroke-width="0.5"/>
<path d="M65 279.7H64.64V280.57H65" fill="none" stroke="#111" stroke-width="0.5"/>
<polygon points="65,276.72 63.67,279.02 65,281" fill="#222" fill-opacity="0.5"/>
<path d="M63.81 277.9H63.37V280.14H64.64" fill="none" stroke="#111" stroke-width="0.5"/>
<polygon points="65,271 62.65,276.63 65,281" fill="#222" fill-opacity="0.5"/>
<path d="M63.23 274.24H62.35V279.02H63.37" fill="none" stroke="#111" stroke-width="0.5"/>
<path d="M65 282.61H64.47V283.42H65" fill="none" stroke="#111" stroke-width="0.5"/>
<path d="M65 281.65H63.87V283.01H64.47" fill="none" stroke="#111" stroke-width="0.5"/>
<path d="M65 284.29H64.54V285.17H65" fill="none" stroke="#111" stroke-width="0.5"/>
<path d="M65 286.27H64.32V287.48H65" fill="none" stroke="#111" stroke-width="0.5"/>
<polygon points="65,283.91 64.07,285.8 65,288.1" fill="#222" fill-opacity="0.5"/>
<path d="M64.54 284.73H63.77V286.87H64.32" fill="none" stroke="#111" stroke-width="0.5"/>
<polygon points="65,281 63.37,284.07 65,288.1" fill="#222" fill-opacity="0.5"/>
<path d="M63.87 282.33H63.07V285.8H63.77" fill="none" stroke="#111" stroke-width="0.5"/>
<path d="M65 288.6H64.6V289.55H65" fill="none" stroke="#111" stroke-width="0.5"/>
<path d="M65 290.46H64.44V291.34H65" fill="none" stroke="#111" stroke-width="0.5"/>
<path d="M64.44 290.9H64.03V292.36H65" fill="none" stroke="#111" stroke-width="0.5"/>
<polygon points="65,288.1 63.61,290.35 65,292.96" fill="#222" fill-opacity="0.5"/>
<path d="M64.6 289.07H63.31V291.63H64.03" fill="none" stroke="#111" stroke-width="0.5"/>
<path d="M65 293.36H64.45V294.16H65" fill="none" stroke="#111" stroke-width="0.5"/>
<path d="M65 295H64.72V295.71H65" fill="none" stroke="#111" stroke-width="0.5"/>
<polygon points="65,292.96 64.29,294.56 65,296" fill="#222" fill-opacity="0.5"/>
<path d="M64.45 293.76H63.99V295.36H64.72" fill="none" stroke="#111" stroke-width="0.5"/>
<polygon points="65,288.1 62.85,292.46 65,296" fill="#222" fill-opacity="0.5"/>
<path d="M63.31 290.35H62.55V294.56H63.99" fill="none" stroke="#111" stroke-width="0.5"/>
<path d="M63.07 284.07H61.49V292.46H62.55" fill="none" stroke="#111" stroke-width="0.5"/>
<path d="M65 296.39H64.45V297.35H65" fill="none" stroke="#111" stroke-width="0.5"/>
<path d="M65 298.52H64.65V299.77H65" fill="none" stroke="#111" stroke-width="0.5"/>
<polygon points="65,296 64.19,298.01 65,300.42" fill="#222" fill-opacity="0.5"/>
<path d="M64.45 296.87H63.89V299.15H64.65" fill="none" stroke="#111" stroke-width="0.5"/>
<path d="M65 300.76H64.72V301.61H65" fill="none" stroke="#111" stroke-width="0.5"/>
<path d="M65 302.48H64.33V303.49H65" fill="none" stroke="#111" stroke-width="0.5"/>
<polygon points="65,300.42 63.94,302.08 65,304.14" fill="#222" fill-opacity="0.5"/>
<path d="M64.72 301.19H63.64V302.98H64.33" fill="none" stroke="#111" stroke-width="0.5"/>
<path d="M65 304.55H64.37V305.27H65" fill="none" stroke="#111" stroke-width="0.5"/>
<path d="M65 306.21H64.65V307.42H65" fill="none" stroke="#111" stroke-width="0.5"/>
<polygon points="65,304.14 64.08,305.86 65,308" fill="#222" fill-opacity="0.5"/>
<path d="M64.37 304.91H63.78V306.82H64.65" fill="none" stroke="#111" stroke-width="0.5"/>
<polygon points="65,300.42 63.16,303.97 65,308" fill="#222" fill-opacity="0.5"/>
<path d="M63.64 302.08H62.86V305.86H63.78" fill="none" stroke="#111" stroke-width="0.5"/>
<polygon points="65,296 62.26,300.99 65,308" fill="#222" fill-opacity="0.5"/>
<path d="M63.89 298.01H61.96V303.97H62.86" fill="none" stroke="#111" stroke-width="0.5"/>
<path d="M65 308.57H64.48V309.47H65" fill="none" stroke="#111" stroke-width="0.5"/>
<path d="M65 310.37H64.48V311.27H65" fill="none" stroke="#111" stroke-width="0.5"/>
<path d="M65 311.92H64.66V312.69H65" fill="none" stroke="#111" stroke-width="0.5"/>
<polygon points="65,309.81 64.36,311.56 65,313.13" fill="#222" fill-opacity="0.5"/>
<path d="M64.48 310.82H64.06V312.31H64.66" fill="none" stroke="#111" stroke-width="0.5"/>
<polygon points="65,308 63.88,310.29 65,313.13" fill="#222" fill-opacity="0.5"/>
<path d="M64.48 309.02H63.58V311.56H64.06" fill="none" stroke="#111" stroke-width="0.5"/>
<path d="M65 313.5H64.67V314.36H65" fill="none" stroke="#111" stroke-width="0.5"/>
<path d="M64.67 313.93H64.09V315.4H65" fill="none" stroke="#111" stroke-width="0.5"/>
<path d="M65 316.58H64.35V317.6H65" fill="none" stroke="#111" stroke-width="0.5"/>
<polygon points="65,313.13 63.86,315.88 65,318" fill="#222" fill-opacity="0.5"/>
<path d="M64.09 314.67H63.56V317.09H64.35" fill="none" stroke="#111" stroke-width="0.5"/>
<polygon points="65,308 62.82,313.08 65,318" fill="#222" fill-opacity="0.5"/>
<path d="M63.58 310.29H62.52V315.88H63.56" fill="none" stroke="#111" stroke-width="0.5"/>
<path d="M65 319.54H64.43V320.29H65" fill="none" stroke="#111" stroke-width="0.5"/>
<path d="M65 318.61H63.98V319.92H64.43" fill="none" stroke="#111" stroke-width="0.5"/>
<path d="M65 321.22H64.5V322.24H65" fill="none" stroke="#111" stroke-width="0.5"/>
<polygon points="65,318 63.68,320.5 65,322.79" fill="#222" fill-opacity="0.5"/>
<path d="M63.98 319.27H63.38V321.73H64.5" fill="none" stroke="#111" stroke-width="0.5"/>
<path d="M65 323.2H64.71V324.16H65" fill="none" stroke="#111" stroke-width="0.5"/>
<polygon points="65,322.79 64.43,324.52 65,326" fill="#222" fill-opacity="0.5"/>
<path d="M64.71 323.68H64.13V325.36H65" fill="none" stroke="#111" stroke-width="0.5"/>
<polygon points="65,318 62.8,322.51 65,326" fill="#222" fill-opacity="0.5"/>
<path d="M63.38 320.5H62.5V324.52H64.13" fill="none" stroke="#111" stroke-width="0.5"/>
<path d="M65 326.66H64.52V327.7H65" fill="none" stroke="#111" stroke-width="0.5"/>
<polygon points="65,326 64.26,327.95 65,329.35" fill="#222" fill-opacity="0.5"/>
<path d="M64.52 327.18H63.96V328.71H65" fill="none" stroke="#111" stroke-width="0.5"/>
<path d="M65 330.73H64.52V331.52H65" fill="none" stroke="#111" stroke-width="0.5"/>
<path d="M65 329.87H64.18V331.12H64.52" fill="none" stroke="#111" stroke-width="0.5"/>
<polygon points="65,326 63.47,329.22 65,331.96" fill="#222" fill-opacity="0.5"/>
<path d="M63.96 327.95H63.17V330.5H64.18" fill="none" stroke="#111" stroke-width="0.5"/>
<path d="M65 332.35H64.37V333.15H65" fill="none" stroke="#111" stroke-width="0.5"/>
<path d="M65 334.76H64.58V335.52H65" fill="none" stroke="#111" stroke-width="0.5"/>
<path d="M65 334.03H64.21V335.14H64.58" fill="none" stroke="#111" stroke-width="0.5"/>
<polygon points="65,331.96 63.81,333.67 65,336" fill="#222" fill-opacity="0.5"/>
<path d="M64.37 332.75H63.51V334.58H64.21" fill="none" stroke="#111" stroke-width="0.5"/>
<polygon points="65,326 62.74,331.44 65,336" fill="#222" fill-opacity="0.5"/>
<path d="M63.17 329.22H62.44V333.67H63.51" fill="none" stroke="#111" stroke-width="0.5"/>
<path d="M65 336.54H64.57V337.45H65" fill="none" stroke="#111" stroke-width="0.5"/>
<polygon points="65,336 64.41,337.71 65,339.01" fill="#222" fill-opacity="0.5"/>
<path d="M64.57 336.99H64.11V338.42H65" fill="none" stroke="#111" stroke-width="0.5"/>
<path d="M65 339.56H64.52V340.55H65" fill="none" stroke="#111" stroke-width="0.5"/>
<polygon points="65,336 63.78,338.88 65,341" fill="#222" fill-opacity="0.5"/>
<path d="M64.11 337.71H63.48V340.05H64.52" fill="none" stroke="#111" stroke-width="0.5"/>
<rect x="63.6" y="45.4" width="1.5" height="295.6" fill="#111"/>
<path d="M60.4 75.42H57.3V103.45H60.7" fill="none" stroke="#666" stroke-width="0.6"/>
<path d="M57.3 89.44H57V119.34H61" fill="none" stroke="#666" stroke-width="0.6"/>
<path d="M61 190.51H59.4V211.81H61" fill="none" stroke="#666" stroke-width="0.6"/>
<path d="M57.5 152.21H54.1V201.16H59.4" fill="none" stroke="#666" stroke-width="0.6"/>
<path d="M57 104.39H51.4V176.69H54.1" fill="none" stroke="#666" stroke-width="0.6"/>
<path d="M60.5 242.43H57.2V264.05H60.5" fill="none" stroke="#666" stroke-width="0.6"/>
<path d="M57.2 253.24H53.4V276.63H62" fill="none" stroke="#666" stroke-width="0.6"/>
<path d="M51.4 140.54H46.2V264.93H53.4" fill="none" stroke="#666" stroke-width="0.6"/>
<path d="M60 288.26H55.3V300.99H60" fill="none" stroke="#666" stroke-width="0.6"/>
<path d="M46.2 202.73H45.7V294.63H55.3" fill="none" stroke="#666" stroke-width="0.6"/>
<path d="M60 313.08H57.9V322.51H60" fill="none" stroke="#666" stroke-width="0.6"/>
<path d="M57.9 317.8H50.7V331.44H59.5" fill="none" stroke="#666" stroke-width="0.6"/>
<path d="M50.7 324.62H42.2V338.88H60.5" fill="none" stroke="#666" stroke-width="0.6"/>
<path d="M45.7 248.68H25.9V331.75H42.2" fill="none" stroke="#666" stroke-width="0.6"/>
<line x1="174.6" y1="65.8" x2="181.8" y2="65.8" stroke="#333" stroke-width="0.55"/>
<text x="182.5" y="67.7" font-size="6.4" textLength="16.2" lengthAdjust="spacingAndGlyphs" >Meis1</text>
<line x1="174.6" y1="167.7" x2="181.8" y2="167.7" stroke="#333" stroke-width="0.55"/>
<text x="182.5" y="169.6" font-size="6.4" textLength="15.8" lengthAdjust="spacingAndGlyphs" >Cxcl2</text>
<line x1="174.6" y1="323.3" x2="182.2" y2="323.3" stroke="#333" stroke-width="0.5"/>
<line x1="174.6" y1="326.4" x2="182.2" y2="326.4" stroke="#333" stroke-width="0.5"/>
<line x1="174.6" y1="328" x2="181.8" y2="328" stroke="#333" stroke-width="0.5"/>
<line x1="181.8" y1="328" x2="181.8" y2="332.3" stroke="#333" stroke-width="0.5"/>
<text x="182.8" y="324.1" font-size="6.4" textLength="13.5" lengthAdjust="spacingAndGlyphs" >Ccl3</text>
<text x="182.8" y="329.4" font-size="6.4" textLength="15.8" lengthAdjust="spacingAndGlyphs" >Cd14</text>
<text x="182.8" y="337.8" font-size="6.4" textLength="13.5" lengthAdjust="spacingAndGlyphs" >Ccr2</text>
<text x="78.7" y="350.4" font-size="6.6" textLength="24.4" lengthAdjust="spacingAndGlyphs" >Clec12a</text>
<text x="78.7" y="357.8" font-size="6.6" textLength="25.5" lengthAdjust="spacingAndGlyphs" >knockout</text>
<text x="127.7" y="350.4" font-size="6.6" textLength="24.6" lengthAdjust="spacingAndGlyphs" >Clec12a</text>
<text x="127.7" y="357.8" font-size="6.6" textLength="23.5" lengthAdjust="spacingAndGlyphs" >wildtype</text>
<text x="212" y="17.3" font-size="12.2" fill="#111" font-weight="bold" >B</text>
<text x="353.6" y="32.5" font-size="8.5" fill="#333" textLength="25.6" lengthAdjust="spacingAndGlyphs">log (<tspan font-style="italic">P</tspan>)</text>
<line x1="232.8" y1="48.7" x2="499.8" y2="48.7" stroke="#555" stroke-width="1.2"/>
<text x="238" y="43.5" font-size="6.5" text-anchor="middle" fill="#444" >−10</text>
<text x="272" y="43.5" font-size="6.5" text-anchor="middle" fill="#444" >−8</text>
<text x="303" y="43.5" font-size="6.5" text-anchor="middle" fill="#444" >−6</text>
<text x="336.7" y="43.5" font-size="6.5" text-anchor="middle" fill="#444" >−4</text>
<text x="374" y="43.5" font-size="6.5" text-anchor="middle" fill="#444" >−2</text>
<text x="402.9" y="43.5" font-size="6.5" text-anchor="middle" fill="#444" >0</text>
<text x="433.1" y="43.5" font-size="6.5" text-anchor="middle" fill="#444" >2</text>
<text x="464.6" y="43.5" font-size="6.5" text-anchor="middle" fill="#444" >4</text>
<text x="498.3" y="43.5" font-size="6.5" text-anchor="middle" fill="#444" >6</text>
<rect x="402.6" y="49.5" width="86.2" height="9.9" fill="#8d83c5"/>
<rect x="402.6" y="61.29" width="66.4" height="9.9" fill="#8d83c5"/>
<rect x="402.6" y="73.08" width="42.9" height="9.9" fill="#8d83c5"/>
<rect x="402.6" y="84.87" width="42.4" height="9.9" fill="#8d83c5"/>
<rect x="402.6" y="96.66" width="41.9" height="9.9" fill="#8d83c5"/>
<rect x="402.6" y="108.45" width="28.4" height="9.9" fill="#8d83c5"/>
<rect x="402.6" y="120.24" width="28" height="9.9" fill="#8d83c5"/>
<rect x="402.6" y="132.03" width="27.3" height="9.9" fill="#8d83c5"/>
<rect x="402.6" y="143.82" width="25.4" height="9.9" fill="#8d83c5"/>
<rect x="402.6" y="155.61" width="24.4" height="9.9" fill="#8d83c5"/>
<rect x="402.6" y="167.4" width="23.7" height="9.9" fill="#8d83c5"/>
<rect x="247.2" y="190.8" width="155.4" height="9.8" fill="#8d83c5"/>
<rect x="349.8" y="202.54" width="52.8" height="9.8" fill="#8d83c5"/>
<rect x="363.2" y="214.28" width="39.4" height="9.8" fill="#8d83c5"/>
<rect x="364.2" y="226.02" width="38.4" height="9.8" fill="#8d83c5"/>
<rect x="367.8" y="237.76" width="34.8" height="9.8" fill="#8d83c5"/>
<rect x="371.4" y="249.5" width="31.2" height="9.8" fill="#8d83c5"/>
<rect x="372.6" y="261.24" width="30" height="9.8" fill="#8d83c5"/>
<rect x="375.9" y="272.98" width="26.7" height="9.8" fill="#8d83c5"/>
<rect x="379.6" y="284.72" width="23" height="9.8" fill="#8d83c5"/>
<rect x="380.6" y="296.46" width="22" height="9.8" fill="#8d83c5"/>
<rect x="380.6" y="308.2" width="22" height="9.8" fill="#8d83c5"/>
<line x1="402.6" y1="48.2" x2="402.6" y2="320.8" stroke="#222" stroke-width="1"/>
<text x="256.5" y="61.5" font-size="6.55" textLength="51.76" lengthAdjust="spacingAndGlyphs" >Purine metabolism</text>
<text x="256.5" y="71" font-size="6.55" textLength="89.29" lengthAdjust="spacingAndGlyphs" >Arginine and proline metabolism</text>
<text x="256.5" y="81" font-size="6.55" textLength="66.01" lengthAdjust="spacingAndGlyphs" >Propaonate metabolism</text>
<text x="256.5" y="93.6" font-size="6.55" textLength="62.87" lengthAdjust="spacingAndGlyphs" >Pyrimidine metabolism</text>
<text x="256.5" y="104.6" font-size="6.55" textLength="97.62" lengthAdjust="spacingAndGlyphs" >Fructose and mannose metabolism</text>
<text x="256.5" y="116.2" font-size="6.55" textLength="66.34" lengthAdjust="spacingAndGlyphs" >Glycerolipid metabolism</text>
<text x="256.5" y="127.3" font-size="6.55" textLength="62.18" lengthAdjust="spacingAndGlyphs" >Glutatione metabolism</text>
<text x="256.5" y="138.8" font-size="6.55" textLength="57.66" lengthAdjust="spacingAndGlyphs" >Histidine metabolism</text>
<text x="256.5" y="150.6" font-size="6.55" textLength="69.13" lengthAdjust="spacingAndGlyphs" >MAPK signaling pathway</text>
<text x="256.5" y="162.1" font-size="6.55" textLength="58.36" lengthAdjust="spacingAndGlyphs" >Pyruvate metabolism</text>
<text x="256.5" y="173.7" font-size="6.55" textLength="76.43" lengthAdjust="spacingAndGlyphs" >Glycolisis/Gluconeogenesis</text>
<text x="407.3" y="197.9" font-size="6.55" textLength="26.74" lengthAdjust="spacingAndGlyphs" >Cell cycle</text>
<text x="407.3" y="209.6" font-size="6.55" textLength="35.78" lengthAdjust="spacingAndGlyphs" >Spliceosome</text>
<text x="407.3" y="221.5" font-size="6.55" textLength="83.38" lengthAdjust="spacingAndGlyphs" >Ubiquitin mediated proteolysis</text>
<text x="407.3" y="233.1" font-size="6.55" textLength="46.89" lengthAdjust="spacingAndGlyphs" >RNA polymerase</text>
<text x="407.3" y="245.1" font-size="6.55" textLength="61.85" lengthAdjust="spacingAndGlyphs" >p53 signaling pathway</text>
<text x="407.3" y="257" font-size="6.55" textLength="69.49" lengthAdjust="spacingAndGlyphs" >Insulin signaling pathway</text>
<text x="407.3" y="268.9" font-size="6.55" textLength="43.08" lengthAdjust="spacingAndGlyphs" >DNA replication</text>
<text x="407.3" y="280.3" font-size="6.55" textLength="63.22" lengthAdjust="spacingAndGlyphs" >Fatty acid biosynthesis</text>
<text x="407.3" y="292.3" font-size="6.55" textLength="47.6" lengthAdjust="spacingAndGlyphs" >RNA degradation</text>
<text x="407.3" y="303.9" font-size="6.55" textLength="54.19" lengthAdjust="spacingAndGlyphs" >Pathways in cancer</text>
<text x="407.3" y="316" font-size="6.55" textLength="102.48" lengthAdjust="spacingAndGlyphs" >Cysteine and methionine metabolism</text>
<text transform="translate(505.0,113.4) rotate(90)" font-size="8.5" text-anchor="middle" fill="#222" stroke="#222" stroke-width="0.25" textLength="29" lengthAdjust="spacingAndGlyphs">Clec12a ko</text>
<text transform="translate(228.6,254.2) rotate(-90)" font-size="8.5" text-anchor="middle" fill="#222" stroke="#222" stroke-width="0.25" textLength="29" lengthAdjust="spacingAndGlyphs">Clec12a wt</text>
<circle cx="304" cy="245.5" r="0.45" fill="#777"/>
<text x="6.7" y="378.7" font-size="12.4" fill="#111" font-weight="bold" >C</text>
<text x="68.2" y="386.2" font-size="8.4" textLength="145.4" lengthAdjust="spacingAndGlyphs" >Enrichment plot: KEGG_CELL_CYCLE</text>
<rect x="48.9" y="478.6" width="3.8" height="29.1" fill="#555"/>
<rect x="52.7" y="478.6" width="1.5" height="29.1" fill="#111"/>
<rect x="54.2" y="478.6" width="2.4" height="29.1" fill="#777"/>
<rect x="58.5" y="478.6" width="1" height="29.1" fill="#bbb"/>
<rect x="59.5" y="478.6" width="1.9" height="29.1" fill="#333"/>
<rect x="61.4" y="478.6" width="1.9" height="29.1" fill="#888"/>
<rect x="64.75" y="478.6" width="0.95" height="29.1" fill="#999"/>
<rect x="65.7" y="478.6" width="1.5" height="29.1" fill="#555"/>
<rect x="67.2" y="478.6" width="2.4" height="29.1" fill="#444"/>
<rect x="71" y="478.6" width="2" height="29.1" fill="#888"/>
<rect x="73" y="478.6" width="1.8" height="29.1" fill="#333"/>
<rect x="74.8" y="478.6" width="2" height="29.1" fill="#ccc"/>
<rect x="76.8" y="478.6" width="1.9" height="29.1" fill="#888"/>
<rect x="80.1" y="478.6" width="2.4" height="29.1" fill="#999"/>
<rect x="82.5" y="478.6" width="1.5" height="29.1" fill="#111"/>
<rect x="84" y="478.6" width="1.9" height="29.1" fill="#ccc"/>
<rect x="85.9" y="478.6" width="1.4" height="29.1" fill="#888"/>
<rect x="88.3" y="478.6" width="1.9" height="29.1" fill="#333"/>
<rect x="90.2" y="478.6" width="1.9" height="29.1" fill="#ccc"/>
<rect x="92.1" y="478.6" width="3.3" height="29.1" fill="#888"/>
<rect x="96.4" y="478.6" width="1.9" height="29.1" fill="#bbb"/>
<rect x="99.3" y="478.6" width="0.9" height="29.1" fill="#111"/>
<rect x="100.3" y="478.6" width="1.9" height="29.1" fill="#888"/>
<rect x="103.6" y="478.6" width="1" height="29.1" fill="#111"/>
<rect x="107" y="478.6" width="2.4" height="29.1" fill="#888"/>
<rect x="109.4" y="478.6" width="1.9" height="29.1" fill="#ccc"/>
<rect x="111.8" y="478.6" width="1.4" height="29.1" fill="#555"/>
<rect x="113.7" y="478.6" width="0.7" height="29.1" fill="#999"/>
<rect x="118.5" y="478.6" width="1.5" height="29.1" fill="#555"/>
<rect x="120.5" y="478.6" width="1" height="29.1" fill="#999"/>
<rect x="127.2" y="478.6" width="0.9" height="29.1" fill="#555"/>
<rect x="131" y="478.6" width="1" height="29.1" fill="#888"/>
<rect x="142" y="478.6" width="1.7" height="29.1" fill="#888"/>
<rect x="147.8" y="478.6" width="4.8" height="29.1" fill="#c4c4c4"/>
<rect x="155" y="478.6" width="1" height="29.1" fill="#111"/>
<rect x="156.5" y="478.6" width="2.8" height="29.1" fill="#aaa"/>
<rect x="159.8" y="478.6" width="0.95" height="29.1" fill="#111"/>
<rect x="161.2" y="478.6" width="2.9" height="29.1" fill="#bbb"/>
<rect x="167.2" y="478.6" width="0.8" height="29.1" fill="#111"/>
<rect x="168.5" y="478.6" width="1.4" height="29.1" fill="#999"/>
<rect x="170.5" y="478.6" width="4" height="29.1" fill="#ddd"/>
<rect x="177.6" y="478.6" width="2.9" height="29.1" fill="#ccc"/>
<rect x="186.2" y="478.6" width="1.5" height="29.1" fill="#999"/>
<rect x="190" y="478.6" width="2.3" height="29.1" fill="#bbb"/>
<rect x="192.8" y="478.6" width="1" height="29.1" fill="#555"/>
<rect x="201" y="478.6" width="2.9" height="29.1" fill="#aaa"/>
<rect x="205.8" y="478.6" width="0.95" height="29.1" fill="#111"/>
<rect x="210" y="478.6" width="4" height="29.1" fill="#bbb"/>
<rect x="215.4" y="478.6" width="1" height="29.1" fill="#777"/>
<rect x="219.7" y="478.6" width="2" height="29.1" fill="#ccc"/>
<rect x="223.6" y="478.6" width="0.9" height="29.1" fill="#444"/>
<defs><linearGradient id="gC" gradientUnits="userSpaceOnUse" x1="48.5" x2="224.8" y1="0" y2="0"><stop offset="0.0000" stop-color="#e43230"/><stop offset="0.0993" stop-color="#e8403c"/><stop offset="0.1815" stop-color="#ec5a56"/><stop offset="0.2467" stop-color="#f07a7a"/><stop offset="0.3091" stop-color="#f39ca6"/><stop offset="0.3488" stop-color="#f4b6ca"/><stop offset="0.4396" stop-color="#f0c2d8"/><stop offset="0.4623" stop-color="#cdd0ee"/><stop offset="0.6041" stop-color="#cfd2ee"/><stop offset="0.6835" stop-color="#c2c4e8"/><stop offset="0.7005" stop-color="#a8aadc"/><stop offset="0.7629" stop-color="#9696d2"/><stop offset="0.7828" stop-color="#6e66c2"/><stop offset="0.9592" stop-color="#655cbc"/><stop offset="0.9637" stop-color="#2c2690"/><stop offset="1.0000" stop-color="#2a248e"/></linearGradient></defs>
<rect x="48.5" y="507.7" width="176.3" height="7.5" fill="url(#gC)"/>
<polygon points="48.5,529.4 50,530.5 52,531.3 55.5,532.3 60,533.4 66,534.6 72.8,535.6 80,536.6 90,537.6 101.7,538.5 110,539.3 120.6,540.2 48.5,540.2" fill="#c4c4cc"/>
<polygon points="120.6,540.2 126,540.5 140,541 160,541.7 178.5,542.5 195,543.6 206.5,545 214,546.8 218,548.6 221.2,551.5 223.1,555 224.1,558.6 224.4,560.5 224.55,571 224.8,571 224.8,540.2" fill="#c4c4cc"/>
<line x1="48.4" y1="466.2" x2="234.3" y2="466.2" stroke="#777" stroke-width="0.9"/>
<line x1="48.4" y1="478.6" x2="234.3" y2="478.6" stroke="#777" stroke-width="0.9"/>
<line x1="48.4" y1="507.7" x2="234.3" y2="507.7" stroke="#999" stroke-width="0.6"/>
<line x1="48.4" y1="515.2" x2="234.3" y2="515.2" stroke="#777" stroke-width="0.9"/>
<rect x="48.4" y="391.1" width="185.9" height="182.6" fill="none" stroke="#7a7a7a" stroke-width="1"/>
<path d="M48.4 466.2 L48.4 460.3 L48.8 452.6 L50.4 448 L51.9 443.4 L53 437.2 L53.9 431.1 L55.8 423.4 L57 421.1 L58.8 422.6 L60.4 417.2 L61.6 414.9 L63.2 410.3 L65 408.8 L66.5 406.5 L68.1 402.6 L69.3 398 L71.2 397.5 L72.7 396.5 L74.2 394.9 L75.75 395.41 L77.3 396.5 L78.85 396.74 L80.4 397.2 L82.7 398.8 L84.7 395.4 L86.4 395.85 L88.1 395.7 L89.65 396.14 L91.2 395.4 L92.7 396.68 L94.2 396.5 L95.73 396.9 L97.27 398.13 L98.8 399.5 L100.37 400.06 L101.93 400.95 L103.5 401.5 L105.03 402.15 L106.55 402.8 L108.07 403.53 L109.6 405.2 L111.15 405.96 L112.7 407.28 L114.25 409.27 L115.8 409.5 L117.33 411.14 L118.85 412.46 L120.38 413.88 L121.9 414.9 L123.27 416.39 L124.64 417.33 L126.01 418.63 L127.39 419.28 L128.76 420.88 L130.13 422 L131.5 423.1 L132.95 424.26 L134.4 425.75 L135.85 427.32 L137.3 428.29 L138.75 429.7 L140.2 430.76 L141.65 432.09 L143.1 433.5 L144.48 434.91 L145.86 435.45 L147.24 436.7 L148.62 438.19 L150 439.2 L151.31 439.89 L152.63 440.37 L153.94 441.5 L155.26 442.02 L156.57 442.9 L157.89 443.51 L159.2 444.3 L160.6 445.16 L162 446.03 L163.4 446.75 L164.8 447.39 L166.2 448.5 L168.5 447.3 L170.03 448.38 L171.57 450.17 L173.1 451.2 L174.53 451.81 L175.95 452.08 L177.38 453.18 L178.8 453.5 L180.15 454.21 L181.5 454.98 L182.85 456.17 L184.2 456.86 L185.55 457.91 L186.9 458.8 L188.28 459.64 L189.66 460.21 L191.04 461.25 L192.42 461.73 L193.8 462.8 L195.25 463.96 L196.7 465.16 L198.15 465.96 L199.6 467.4 L201.05 467.51 L202.5 467.45 L203.95 467.88 L205.4 468.1 L206.85 468.75 L208.3 468.94 L209.75 469.45 L211.2 469.7 L212.62 470.05 L214.05 469.78 L215.47 470.57 L216.9 470.4 L218.3 471.56 L219.7 472.12 L221.1 473.4 L222.7 473.8 L223.8 471.5 L224.5 465.3" fill="none" stroke="#2f8a2f" stroke-width="1" stroke-linejoin="round"/>
<line x1="45.2" y1="466.2" x2="48.4" y2="466.2" stroke="#666" stroke-width="0.7"/>
<text x="42.6" y="468.5" font-size="6.7" text-anchor="end" >0.0</text>
<line x1="45.2" y1="450.9" x2="48.4" y2="450.9" stroke="#666" stroke-width="0.7"/>
<text x="42.6" y="453.2" font-size="6.7" text-anchor="end" >0.1</text>
<line x1="45.2" y1="435.4" x2="48.4" y2="435.4" stroke="#666" stroke-width="0.7"/>
<text x="42.6" y="437.7" font-size="6.7" text-anchor="end" >0.2</text>
<line x1="45.2" y1="419.7" x2="48.4" y2="419.7" stroke="#666" stroke-width="0.7"/>
<text x="42.6" y="422" font-size="6.7" text-anchor="end" >0.3</text>
<line x1="45.2" y1="404" x2="48.4" y2="404" stroke="#666" stroke-width="0.7"/>
<text x="42.6" y="406.3" font-size="6.7" text-anchor="end" >0.4</text>
<line x1="45.2" y1="527.2" x2="48.4" y2="527.2" stroke="#666" stroke-width="0.7"/>
<text x="42.6" y="529.5" font-size="6.7" text-anchor="end" >2</text>
<line x1="45.2" y1="540.2" x2="48.4" y2="540.2" stroke="#666" stroke-width="0.7"/>
<text x="42.6" y="542.5" font-size="6.7" text-anchor="end" >0</text>
<line x1="45.2" y1="552.8" x2="48.4" y2="552.8" stroke="#666" stroke-width="0.7"/>
<text x="42.6" y="555.1" font-size="6.7" text-anchor="end" >−2</text>
<line x1="45.2" y1="565.3" x2="48.4" y2="565.3" stroke="#666" stroke-width="0.7"/>
<text x="42.6" y="567.6" font-size="6.7" text-anchor="end" >−4</text>
<line x1="48.4" y1="573.7" x2="48.4" y2="576.5" stroke="#666" stroke-width="0.7"/>
<text transform="translate(51.4,583.9) rotate(-45)" font-size="7" text-anchor="end" fill="#333">0</text>
<line x1="68.58" y1="573.7" x2="68.58" y2="576.5" stroke="#666" stroke-width="0.7"/>
<text transform="translate(71.58,583.9) rotate(-45)" font-size="7" text-anchor="end" fill="#333">2,000</text>
<line x1="88.76" y1="573.7" x2="88.76" y2="576.5" stroke="#666" stroke-width="0.7"/>
<text transform="translate(91.76,583.9) rotate(-45)" font-size="7" text-anchor="end" fill="#333">4,000</text>
<line x1="108.94" y1="573.7" x2="108.94" y2="576.5" stroke="#666" stroke-width="0.7"/>
<text transform="translate(111.94,583.9) rotate(-45)" font-size="7" text-anchor="end" fill="#333">6,000</text>
<line x1="129.12" y1="573.7" x2="129.12" y2="576.5" stroke="#666" stroke-width="0.7"/>
<text transform="translate(132.12,583.9) rotate(-45)" font-size="7" text-anchor="end" fill="#333">8,000</text>
<line x1="149.3" y1="573.7" x2="149.3" y2="576.5" stroke="#666" stroke-width="0.7"/>
<text transform="translate(152.3,583.9) rotate(-45)" font-size="7" text-anchor="end" fill="#333">10,000</text>
<line x1="169.48" y1="573.7" x2="169.48" y2="576.5" stroke="#666" stroke-width="0.7"/>
<text transform="translate(172.48,583.9) rotate(-45)" font-size="7" text-anchor="end" fill="#333">12,000</text>
<line x1="189.66" y1="573.7" x2="189.66" y2="576.5" stroke="#666" stroke-width="0.7"/>
<text transform="translate(192.66,583.9) rotate(-45)" font-size="7" text-anchor="end" fill="#333">14,000</text>
<line x1="209.84" y1="573.7" x2="209.84" y2="576.5" stroke="#666" stroke-width="0.7"/>
<text transform="translate(212.84,583.9) rotate(-45)" font-size="7" text-anchor="end" fill="#333">16,000</text>
<line x1="230.02" y1="573.7" x2="230.02" y2="576.5" stroke="#666" stroke-width="0.7"/>
<text transform="translate(233.02,583.9) rotate(-45)" font-size="7" text-anchor="end" fill="#333">18,000</text>
<text x="52" y="525.4" font-size="6.4" textLength="50" lengthAdjust="spacingAndGlyphs" >Clec12a wild type</text>
<text x="94" y="547.2" font-size="6.4" textLength="53.6" lengthAdjust="spacingAndGlyphs" >Zero cross at 7172</text>
<text x="166.7" y="569" font-size="6.4" textLength="51.8" lengthAdjust="spacingAndGlyphs" >Clec12a knockout</text>
<text transform="translate(27.5,429.0) rotate(-90)" font-size="8.3" font-weight="bold" text-anchor="middle" fill="#333" textLength="61" lengthAdjust="spacingAndGlyphs">Enrichment score (ES)</text>
<text transform="translate(28.9,544.9) rotate(-90)" font-size="8.3" font-weight="bold" text-anchor="middle" fill="#333" textLength="89" lengthAdjust="spacingAndGlyphs">Ranked list metric (Signal2Noise)</text>
<text x="109.2" y="609.6" font-size="8.4" fill="#222" textLength="63" lengthAdjust="spacingAndGlyphs" font-weight="bold" >Rank in ordered dataset</text>
<line x1="54.4" y1="618.3" x2="64" y2="618.3" stroke="#2f8a2f" stroke-width="0.8"/>
<text x="67" y="620.4" font-size="6.2" textLength="50" lengthAdjust="spacingAndGlyphs" >Enrichment profile</text>
<line x1="123" y1="618.3" x2="132.3" y2="618.3" stroke="#333" stroke-width="0.8"/>
<text x="136" y="620.4" font-size="6.2" textLength="11" lengthAdjust="spacingAndGlyphs" >Hits</text>
<line x1="153" y1="618.3" x2="162.3" y2="618.3" stroke="#bbb" stroke-width="0.8"/>
<text x="166.2" y="620.4" font-size="6.2" textLength="61.3" lengthAdjust="spacingAndGlyphs" >Ranking metric scores</text>
<text x="282.4" y="378.7" font-size="12.4" fill="#111" font-weight="bold" >D</text>
<text x="327.9" y="386.2" font-size="8.4" textLength="171" lengthAdjust="spacingAndGlyphs" >Enrichment plot: KEGG_DNA_REPLICATION</text>
<rect x="320.7" y="478.6" width="1.6" height="29.1" fill="#888"/>
<rect x="326.2" y="478.6" width="0.9" height="29.1" fill="#888"/>
<rect x="327.6" y="478.6" width="1.9" height="29.1" fill="#aaa"/>
<rect x="329.5" y="478.6" width="2" height="29.1" fill="#888"/>
<rect x="333.9" y="478.6" width="0.9" height="29.1" fill="#777"/>
<rect x="339.9" y="478.6" width="1.2" height="29.1" fill="#111"/>
<rect x="343" y="478.6" width="1" height="29.1" fill="#444"/>
<rect x="346.8" y="478.6" width="1" height="29.1" fill="#555"/>
<rect x="348.3" y="478.6" width="1.4" height="29.1" fill="#777"/>
<rect x="353.1" y="478.6" width="2.9" height="29.1" fill="#aaa"/>
<rect x="363.2" y="478.6" width="1.9" height="29.1" fill="#999"/>
<rect x="381.3" y="478.6" width="1" height="29.1" fill="#555"/>
<rect x="412" y="478.6" width="1.5" height="29.1" fill="#888"/>
<rect x="427" y="478.6" width="1.8" height="29.1" fill="#666"/>
<rect x="434.6" y="478.6" width="1.4" height="29.1" fill="#888"/>
<rect x="454.2" y="478.6" width="2.9" height="29.1" fill="#aaa"/>
<rect x="458.5" y="478.6" width="1.1" height="29.1" fill="#777"/>
<rect x="469.2" y="478.6" width="1.6" height="29.1" fill="#888"/>
<rect x="491.7" y="478.6" width="1" height="29.1" fill="#888"/>
<defs><linearGradient id="gD" gradientUnits="userSpaceOnUse" x1="320.5" x2="496.8" y1="0" y2="0"><stop offset="0.0000" stop-color="#e43230"/><stop offset="0.0993" stop-color="#e8403c"/><stop offset="0.1815" stop-color="#ec5a56"/><stop offset="0.2467" stop-color="#f07a7a"/><stop offset="0.3091" stop-color="#f39ca6"/><stop offset="0.3488" stop-color="#f4b6ca"/><stop offset="0.4396" stop-color="#f0c2d8"/><stop offset="0.4623" stop-color="#cdd0ee"/><stop offset="0.6041" stop-color="#cfd2ee"/><stop offset="0.6835" stop-color="#c2c4e8"/><stop offset="0.7005" stop-color="#a8aadc"/><stop offset="0.7629" stop-color="#9696d2"/><stop offset="0.7828" stop-color="#6e66c2"/><stop offset="0.9592" stop-color="#655cbc"/><stop offset="0.9637" stop-color="#2c2690"/><stop offset="1.0000" stop-color="#2a248e"/></linearGradient></defs>
<rect x="320.5" y="507.7" width="176.3" height="7.5" fill="url(#gD)"/>
<polygon points="320.5,529.4 322,530.5 324,531.3 327.5,532.3 332,533.4 338,534.6 344.8,535.6 352,536.6 362,537.6 373.7,538.5 382,539.3 392.6,540.2 320.5,540.2" fill="#c4c4cc"/>
<polygon points="392.6,540.2 398,540.61 412,541.28 432,542.23 450.5,543.3 467,544.79 478.5,546.68 486,549.11 490,551.54 493.2,555.46 495.1,560.18 496.1,558.6 496.4,560.5 496.55,571 496.8,571 496.8,540.2" fill="#c4c4cc"/>
<line x1="320.4" y1="470.2" x2="506.3" y2="470.2" stroke="#777" stroke-width="0.9"/>
<line x1="320.4" y1="478.6" x2="506.3" y2="478.6" stroke="#777" stroke-width="0.9"/>
<line x1="320.4" y1="507.7" x2="506.3" y2="507.7" stroke="#999" stroke-width="0.6"/>
<line x1="320.4" y1="515.2" x2="506.3" y2="515.2" stroke="#777" stroke-width="0.9"/>
<rect x="320.4" y="391.1" width="185.9" height="182.6" fill="none" stroke="#7a7a7a" stroke-width="1"/>
<path d="M320.4 470.2 L320.7 462.5 L321.3 463.2 L321.7 458.5 L322.9 453.8 L326.1 456.6 L326.6 450.5 L328.4 451.6 L328.9 446.5 L329.6 447.2 L330.3 440.5 L331.7 434.3 L333.4 436.4 L334.7 431.7 L339.5 435.6 L340.2 428.5 L341.7 423.2 L343 424.8 L344 415.4 L346.5 414.9 L347.6 405.5 L349.3 398.5 L352.5 401.2 L353.2 397.8 L356.4 394.9 L362.9 399.8 L363.4 397.9 L364.6 398.6 L365.8 397.9 L381.3 410.6 L381.8 409.9 L413 435 L413.5 434.3 L426.2 445.1 L428.5 443.3 L434.8 447.8 L435.6 446.9 L440 450.2 L454.1 462 L455.5 460.3 L456.8 461 L458.2 458.3 L459.5 456.9 L469.6 464.3 L470.3 457.6 L485.1 469 L491.1 473.7 L492.5 466.1 L493.8 467 L495.2 469 L496.5 469.7" fill="none" stroke="#2f8a2f" stroke-width="1" stroke-linejoin="round"/>
<line x1="317.2" y1="470.2" x2="320.4" y2="470.2" stroke="#666" stroke-width="0.7"/>
<text x="314.6" y="472.5" font-size="6.7" text-anchor="end" >0.0</text>
<line x1="317.2" y1="456.2" x2="320.4" y2="456.2" stroke="#666" stroke-width="0.7"/>
<text x="314.6" y="458.5" font-size="6.7" text-anchor="end" >0.1</text>
<line x1="317.2" y1="442.1" x2="320.4" y2="442.1" stroke="#666" stroke-width="0.7"/>
<text x="314.6" y="444.4" font-size="6.7" text-anchor="end" >0.2</text>
<line x1="317.2" y1="427.9" x2="320.4" y2="427.9" stroke="#666" stroke-width="0.7"/>
<text x="314.6" y="430.2" font-size="6.7" text-anchor="end" >0.3</text>
<line x1="317.2" y1="413.8" x2="320.4" y2="413.8" stroke="#666" stroke-width="0.7"/>
<text x="314.6" y="416.1" font-size="6.7" text-anchor="end" >0.4</text>
<line x1="317.2" y1="399.8" x2="320.4" y2="399.8" stroke="#666" stroke-width="0.7"/>
<text x="314.6" y="402.1" font-size="6.7" text-anchor="end" >0.5</text>
<line x1="317.2" y1="527.2" x2="320.4" y2="527.2" stroke="#666" stroke-width="0.7"/>
<text x="314.6" y="529.5" font-size="6.7" text-anchor="end" >2</text>
<line x1="317.2" y1="540.2" x2="320.4" y2="540.2" stroke="#666" stroke-width="0.7"/>
<text x="314.6" y="542.5" font-size="6.7" text-anchor="end" >0</text>
<line x1="317.2" y1="552.8" x2="320.4" y2="552.8" stroke="#666" stroke-width="0.7"/>
<text x="314.6" y="555.1" font-size="6.7" text-anchor="end" >−2</text>
<line x1="317.2" y1="565.3" x2="320.4" y2="565.3" stroke="#666" stroke-width="0.7"/>
<text x="314.6" y="567.6" font-size="6.7" text-anchor="end" >−4</text>
<line x1="320.2" y1="573.7" x2="320.2" y2="576.5" stroke="#666" stroke-width="0.7"/>
<text transform="translate(323.2,583.9) rotate(-45)" font-size="7" text-anchor="end" fill="#333">0</text>
<line x1="340.38" y1="573.7" x2="340.38" y2="576.5" stroke="#666" stroke-width="0.7"/>
<text transform="translate(343.38,583.9) rotate(-45)" font-size="7" text-anchor="end" fill="#333">2,000</text>
<line x1="360.56" y1="573.7" x2="360.56" y2="576.5" stroke="#666" stroke-width="0.7"/>
<text transform="translate(363.56,583.9) rotate(-45)" font-size="7" text-anchor="end" fill="#333">4,000</text>
<line x1="380.74" y1="573.7" x2="380.74" y2="576.5" stroke="#666" stroke-width="0.7"/>
<text transform="translate(383.74,583.9) rotate(-45)" font-size="7" text-anchor="end" fill="#333">6,000</text>
<line x1="400.92" y1="573.7" x2="400.92" y2="576.5" stroke="#666" stroke-width="0.7"/>
<text transform="translate(403.92,583.9) rotate(-45)" font-size="7" text-anchor="end" fill="#333">8,000</text>
<line x1="421.1" y1="573.7" x2="421.1" y2="576.5" stroke="#666" stroke-width="0.7"/>
<text transform="translate(424.1,583.9) rotate(-45)" font-size="7" text-anchor="end" fill="#333">10,000</text>
<line x1="441.28" y1="573.7" x2="441.28" y2="576.5" stroke="#666" stroke-width="0.7"/>
<text transform="translate(444.28,583.9) rotate(-45)" font-size="7" text-anchor="end" fill="#333">12,000</text>
<line x1="461.46" y1="573.7" x2="461.46" y2="576.5" stroke="#666" stroke-width="0.7"/>
<text transform="translate(464.46,583.9) rotate(-45)" font-size="7" text-anchor="end" fill="#333">14,000</text>
<line x1="481.64" y1="573.7" x2="481.64" y2="576.5" stroke="#666" stroke-width="0.7"/>
<text transform="translate(484.64,583.9) rotate(-45)" font-size="7" text-anchor="end" fill="#333">16,000</text>
<line x1="501.82" y1="573.7" x2="501.82" y2="576.5" stroke="#666" stroke-width="0.7"/>
<text transform="translate(504.82,583.9) rotate(-45)" font-size="7" text-anchor="end" fill="#333">18,000</text>
<text x="324" y="525.4" font-size="6.4" textLength="50" lengthAdjust="spacingAndGlyphs" >Clec12a wild type</text>
<text x="368.9" y="547.2" font-size="6.4" textLength="53.6" lengthAdjust="spacingAndGlyphs" >Zero cross at 7172</text>
<text x="439.8" y="569" font-size="6.4" textLength="51.8" lengthAdjust="spacingAndGlyphs" >Clec12a knockout</text>
<text transform="translate(299.5,429.0) rotate(-90)" font-size="8.3" font-weight="bold" text-anchor="middle" fill="#333" textLength="61" lengthAdjust="spacingAndGlyphs">Enrichment score (ES)</text>
<text transform="translate(300.9,544.9) rotate(-90)" font-size="8.3" font-weight="bold" text-anchor="middle" fill="#333" textLength="89" lengthAdjust="spacingAndGlyphs">Ranked list metric (Signal2Noise)</text>
<text x="381.2" y="609.6" font-size="8.4" fill="#222" textLength="63" lengthAdjust="spacingAndGlyphs" font-weight="bold" >Rank in ordered dataset</text>
<line x1="326.4" y1="618.3" x2="336" y2="618.3" stroke="#2f8a2f" stroke-width="0.8"/>
<text x="339" y="620.4" font-size="6.2" textLength="50" lengthAdjust="spacingAndGlyphs" >Enrichment profile</text>
<line x1="395" y1="618.3" x2="404.3" y2="618.3" stroke="#333" stroke-width="0.8"/>
<text x="408" y="620.4" font-size="6.2" textLength="11" lengthAdjust="spacingAndGlyphs" >Hits</text>
<line x1="425" y1="618.3" x2="434.3" y2="618.3" stroke="#bbb" stroke-width="0.8"/>
<text x="438.2" y="620.4" font-size="6.2" textLength="61.3" lengthAdjust="spacingAndGlyphs" >Ranking metric scores</text>
<rect x="0.5" y="0.5" width="519" height="628" fill="none" stroke="#585858" stroke-width="1"/>
</svg>
</body></html>
